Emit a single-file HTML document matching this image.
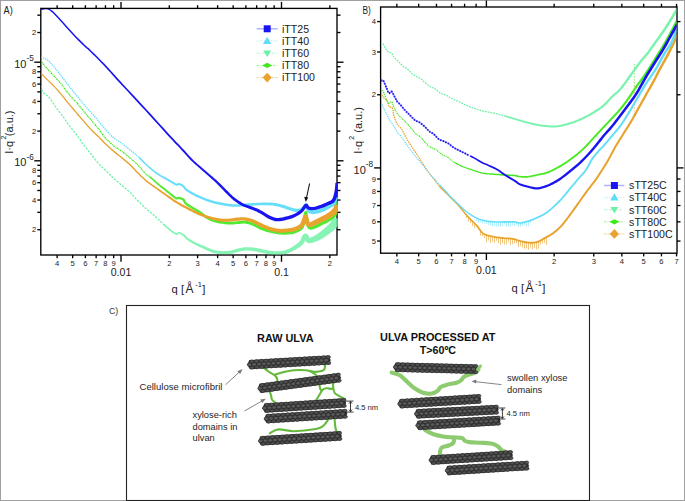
<!DOCTYPE html><html><head><meta charset="utf-8"><style>html,body{margin:0;padding:0;background:#fff;}svg{display:block;font-family:"Liberation Sans",sans-serif;}</style></head><body>
<svg width="685" height="501" viewBox="0 0 685 501">
<rect x="0" y="0" width="685" height="501" fill="#fff"/>
<defs><g id="rod"><path d="M0.3,0 L2.6,-4.6 L83.7,-4.6 L85.7,0 L83.7,4.6 L2.6,4.6 Z" fill="#2f2f2f"/><ellipse cx="5.05" cy="-3.0" rx="2.25" ry="1.60" fill="#505050" stroke="#2b2b2b" stroke-width="0.55"/><ellipse cx="9.95" cy="-3.0" rx="2.25" ry="1.60" fill="#505050" stroke="#2b2b2b" stroke-width="0.55"/><ellipse cx="14.85" cy="-3.0" rx="2.25" ry="1.60" fill="#505050" stroke="#2b2b2b" stroke-width="0.55"/><ellipse cx="19.75" cy="-3.0" rx="2.25" ry="1.60" fill="#505050" stroke="#2b2b2b" stroke-width="0.55"/><ellipse cx="24.65" cy="-3.0" rx="2.25" ry="1.60" fill="#505050" stroke="#2b2b2b" stroke-width="0.55"/><ellipse cx="29.55" cy="-3.0" rx="2.25" ry="1.60" fill="#505050" stroke="#2b2b2b" stroke-width="0.55"/><ellipse cx="34.45" cy="-3.0" rx="2.25" ry="1.60" fill="#505050" stroke="#2b2b2b" stroke-width="0.55"/><ellipse cx="39.35" cy="-3.0" rx="2.25" ry="1.60" fill="#505050" stroke="#2b2b2b" stroke-width="0.55"/><ellipse cx="44.25" cy="-3.0" rx="2.25" ry="1.60" fill="#505050" stroke="#2b2b2b" stroke-width="0.55"/><ellipse cx="49.15" cy="-3.0" rx="2.25" ry="1.60" fill="#505050" stroke="#2b2b2b" stroke-width="0.55"/><ellipse cx="54.05" cy="-3.0" rx="2.25" ry="1.60" fill="#505050" stroke="#2b2b2b" stroke-width="0.55"/><ellipse cx="58.95" cy="-3.0" rx="2.25" ry="1.60" fill="#505050" stroke="#2b2b2b" stroke-width="0.55"/><ellipse cx="63.85" cy="-3.0" rx="2.25" ry="1.60" fill="#505050" stroke="#2b2b2b" stroke-width="0.55"/><ellipse cx="68.75" cy="-3.0" rx="2.25" ry="1.60" fill="#505050" stroke="#2b2b2b" stroke-width="0.55"/><ellipse cx="73.65" cy="-3.0" rx="2.25" ry="1.60" fill="#505050" stroke="#2b2b2b" stroke-width="0.55"/><ellipse cx="78.55" cy="-3.0" rx="2.25" ry="1.60" fill="#505050" stroke="#2b2b2b" stroke-width="0.55"/><ellipse cx="83.45" cy="-3.0" rx="2.25" ry="1.60" fill="#505050" stroke="#2b2b2b" stroke-width="0.55"/><ellipse cx="5.05" cy="3.0" rx="2.25" ry="1.60" fill="#4e4e4e" stroke="#2b2b2b" stroke-width="0.55"/><ellipse cx="9.95" cy="3.0" rx="2.25" ry="1.60" fill="#4e4e4e" stroke="#2b2b2b" stroke-width="0.55"/><ellipse cx="14.85" cy="3.0" rx="2.25" ry="1.60" fill="#4e4e4e" stroke="#2b2b2b" stroke-width="0.55"/><ellipse cx="19.75" cy="3.0" rx="2.25" ry="1.60" fill="#4e4e4e" stroke="#2b2b2b" stroke-width="0.55"/><ellipse cx="24.65" cy="3.0" rx="2.25" ry="1.60" fill="#4e4e4e" stroke="#2b2b2b" stroke-width="0.55"/><ellipse cx="29.55" cy="3.0" rx="2.25" ry="1.60" fill="#4e4e4e" stroke="#2b2b2b" stroke-width="0.55"/><ellipse cx="34.45" cy="3.0" rx="2.25" ry="1.60" fill="#4e4e4e" stroke="#2b2b2b" stroke-width="0.55"/><ellipse cx="39.35" cy="3.0" rx="2.25" ry="1.60" fill="#4e4e4e" stroke="#2b2b2b" stroke-width="0.55"/><ellipse cx="44.25" cy="3.0" rx="2.25" ry="1.60" fill="#4e4e4e" stroke="#2b2b2b" stroke-width="0.55"/><ellipse cx="49.15" cy="3.0" rx="2.25" ry="1.60" fill="#4e4e4e" stroke="#2b2b2b" stroke-width="0.55"/><ellipse cx="54.05" cy="3.0" rx="2.25" ry="1.60" fill="#4e4e4e" stroke="#2b2b2b" stroke-width="0.55"/><ellipse cx="58.95" cy="3.0" rx="2.25" ry="1.60" fill="#4e4e4e" stroke="#2b2b2b" stroke-width="0.55"/><ellipse cx="63.85" cy="3.0" rx="2.25" ry="1.60" fill="#4e4e4e" stroke="#2b2b2b" stroke-width="0.55"/><ellipse cx="68.75" cy="3.0" rx="2.25" ry="1.60" fill="#4e4e4e" stroke="#2b2b2b" stroke-width="0.55"/><ellipse cx="73.65" cy="3.0" rx="2.25" ry="1.60" fill="#4e4e4e" stroke="#2b2b2b" stroke-width="0.55"/><ellipse cx="78.55" cy="3.0" rx="2.25" ry="1.60" fill="#4e4e4e" stroke="#2b2b2b" stroke-width="0.55"/><ellipse cx="83.45" cy="3.0" rx="2.25" ry="1.60" fill="#4e4e4e" stroke="#2b2b2b" stroke-width="0.55"/><ellipse cx="2.60" cy="0.0" rx="2.30" ry="1.75" fill="#5a5a5a" stroke="#2b2b2b" stroke-width="0.55"/><ellipse cx="7.50" cy="0.0" rx="2.30" ry="1.75" fill="#5a5a5a" stroke="#2b2b2b" stroke-width="0.55"/><ellipse cx="12.40" cy="0.0" rx="2.30" ry="1.75" fill="#5a5a5a" stroke="#2b2b2b" stroke-width="0.55"/><ellipse cx="17.30" cy="0.0" rx="2.30" ry="1.75" fill="#5a5a5a" stroke="#2b2b2b" stroke-width="0.55"/><ellipse cx="22.20" cy="0.0" rx="2.30" ry="1.75" fill="#5a5a5a" stroke="#2b2b2b" stroke-width="0.55"/><ellipse cx="27.10" cy="0.0" rx="2.30" ry="1.75" fill="#5a5a5a" stroke="#2b2b2b" stroke-width="0.55"/><ellipse cx="32.00" cy="0.0" rx="2.30" ry="1.75" fill="#5a5a5a" stroke="#2b2b2b" stroke-width="0.55"/><ellipse cx="36.90" cy="0.0" rx="2.30" ry="1.75" fill="#5a5a5a" stroke="#2b2b2b" stroke-width="0.55"/><ellipse cx="41.80" cy="0.0" rx="2.30" ry="1.75" fill="#5a5a5a" stroke="#2b2b2b" stroke-width="0.55"/><ellipse cx="46.70" cy="0.0" rx="2.30" ry="1.75" fill="#5a5a5a" stroke="#2b2b2b" stroke-width="0.55"/><ellipse cx="51.60" cy="0.0" rx="2.30" ry="1.75" fill="#5a5a5a" stroke="#2b2b2b" stroke-width="0.55"/><ellipse cx="56.50" cy="0.0" rx="2.30" ry="1.75" fill="#5a5a5a" stroke="#2b2b2b" stroke-width="0.55"/><ellipse cx="61.40" cy="0.0" rx="2.30" ry="1.75" fill="#5a5a5a" stroke="#2b2b2b" stroke-width="0.55"/><ellipse cx="66.30" cy="0.0" rx="2.30" ry="1.75" fill="#5a5a5a" stroke="#2b2b2b" stroke-width="0.55"/><ellipse cx="71.20" cy="0.0" rx="2.30" ry="1.75" fill="#5a5a5a" stroke="#2b2b2b" stroke-width="0.55"/><ellipse cx="76.10" cy="0.0" rx="2.30" ry="1.75" fill="#5a5a5a" stroke="#2b2b2b" stroke-width="0.55"/><ellipse cx="81.00" cy="0.0" rx="2.30" ry="1.75" fill="#5a5a5a" stroke="#2b2b2b" stroke-width="0.55"/></g></defs>
<g fill="#a0a0a0"><rect x="0" y="0" width="685" height="1"/><rect x="0" y="500" width="685" height="1"/><rect x="0" y="0" width="1" height="501"/><rect x="684" y="0" width="1" height="501"/></g>
<g stroke="#000" stroke-width="1.35" fill="none"><rect x="40.80" y="8.40" width="296.20" height="246.60"/><line x1="57.13" y1="255.00" x2="57.13" y2="258.20"/><line x1="57.13" y1="8.40" x2="57.13" y2="5.20"/><line x1="72.68" y1="255.00" x2="72.68" y2="258.20"/><line x1="72.68" y1="8.40" x2="72.68" y2="5.20"/><line x1="85.39" y1="255.00" x2="85.39" y2="258.20"/><line x1="85.39" y1="8.40" x2="85.39" y2="5.20"/><line x1="96.14" y1="255.00" x2="96.14" y2="258.20"/><line x1="96.14" y1="8.40" x2="96.14" y2="5.20"/><line x1="105.45" y1="255.00" x2="105.45" y2="258.20"/><line x1="105.45" y1="8.40" x2="105.45" y2="5.20"/><line x1="113.66" y1="255.00" x2="113.66" y2="258.20"/><line x1="113.66" y1="8.40" x2="113.66" y2="5.20"/><line x1="169.32" y1="255.00" x2="169.32" y2="258.20"/><line x1="169.32" y1="8.40" x2="169.32" y2="5.20"/><line x1="197.58" y1="255.00" x2="197.58" y2="258.20"/><line x1="197.58" y1="8.40" x2="197.58" y2="5.20"/><line x1="217.63" y1="255.00" x2="217.63" y2="258.20"/><line x1="217.63" y1="8.40" x2="217.63" y2="5.20"/><line x1="233.18" y1="255.00" x2="233.18" y2="258.20"/><line x1="233.18" y1="8.40" x2="233.18" y2="5.20"/><line x1="245.89" y1="255.00" x2="245.89" y2="258.20"/><line x1="245.89" y1="8.40" x2="245.89" y2="5.20"/><line x1="256.64" y1="255.00" x2="256.64" y2="258.20"/><line x1="256.64" y1="8.40" x2="256.64" y2="5.20"/><line x1="265.95" y1="255.00" x2="265.95" y2="258.20"/><line x1="265.95" y1="8.40" x2="265.95" y2="5.20"/><line x1="274.16" y1="255.00" x2="274.16" y2="258.20"/><line x1="274.16" y1="8.40" x2="274.16" y2="5.20"/><line x1="329.82" y1="255.00" x2="329.82" y2="258.20"/><line x1="329.82" y1="8.40" x2="329.82" y2="5.20"/><line x1="121.00" y1="255.00" x2="121.00" y2="261.80"/><line x1="121.00" y1="8.40" x2="121.00" y2="1.90"/><line x1="281.50" y1="255.00" x2="281.50" y2="261.80"/><line x1="281.50" y1="8.40" x2="281.50" y2="1.90"/><line x1="40.80" y1="229.72" x2="37.30" y2="229.72"/><line x1="337.00" y1="229.72" x2="340.50" y2="229.72"/><line x1="40.80" y1="212.36" x2="37.30" y2="212.36"/><line x1="337.00" y1="212.36" x2="340.50" y2="212.36"/><line x1="40.80" y1="200.04" x2="37.30" y2="200.04"/><line x1="337.00" y1="200.04" x2="340.50" y2="200.04"/><line x1="40.80" y1="190.48" x2="37.30" y2="190.48"/><line x1="337.00" y1="190.48" x2="340.50" y2="190.48"/><line x1="40.80" y1="182.67" x2="37.30" y2="182.67"/><line x1="337.00" y1="182.67" x2="340.50" y2="182.67"/><line x1="40.80" y1="176.07" x2="37.30" y2="176.07"/><line x1="337.00" y1="176.07" x2="340.50" y2="176.07"/><line x1="40.80" y1="170.36" x2="37.30" y2="170.36"/><line x1="337.00" y1="170.36" x2="340.50" y2="170.36"/><line x1="40.80" y1="165.31" x2="37.30" y2="165.31"/><line x1="337.00" y1="165.31" x2="340.50" y2="165.31"/><line x1="40.80" y1="131.12" x2="37.30" y2="131.12"/><line x1="337.00" y1="131.12" x2="340.50" y2="131.12"/><line x1="40.80" y1="113.76" x2="37.30" y2="113.76"/><line x1="337.00" y1="113.76" x2="340.50" y2="113.76"/><line x1="40.80" y1="101.44" x2="37.30" y2="101.44"/><line x1="337.00" y1="101.44" x2="340.50" y2="101.44"/><line x1="40.80" y1="91.88" x2="37.30" y2="91.88"/><line x1="337.00" y1="91.88" x2="340.50" y2="91.88"/><line x1="40.80" y1="84.07" x2="37.30" y2="84.07"/><line x1="337.00" y1="84.07" x2="340.50" y2="84.07"/><line x1="40.80" y1="77.47" x2="37.30" y2="77.47"/><line x1="337.00" y1="77.47" x2="340.50" y2="77.47"/><line x1="40.80" y1="71.76" x2="37.30" y2="71.76"/><line x1="337.00" y1="71.76" x2="340.50" y2="71.76"/><line x1="40.80" y1="66.71" x2="37.30" y2="66.71"/><line x1="337.00" y1="66.71" x2="340.50" y2="66.71"/><line x1="40.80" y1="32.52" x2="37.30" y2="32.52"/><line x1="337.00" y1="32.52" x2="340.50" y2="32.52"/><line x1="40.80" y1="15.16" x2="37.30" y2="15.16"/><line x1="337.00" y1="15.16" x2="340.50" y2="15.16"/><line x1="40.80" y1="62.20" x2="34.30" y2="62.20"/><line x1="337.00" y1="62.20" x2="343.50" y2="62.20"/><line x1="40.80" y1="160.80" x2="34.30" y2="160.80"/><line x1="337.00" y1="160.80" x2="343.50" y2="160.80"/></g>
<text x="57.13" y="266.00" font-size="7.60" text-anchor="middle" fill="#222" font-weight="normal" font-family="&quot;Liberation Sans&quot;, sans-serif" >4</text>
<text x="72.68" y="266.00" font-size="7.60" text-anchor="middle" fill="#222" font-weight="normal" font-family="&quot;Liberation Sans&quot;, sans-serif" >5</text>
<text x="85.39" y="266.00" font-size="7.60" text-anchor="middle" fill="#222" font-weight="normal" font-family="&quot;Liberation Sans&quot;, sans-serif" >6</text>
<text x="96.14" y="266.00" font-size="7.60" text-anchor="middle" fill="#222" font-weight="normal" font-family="&quot;Liberation Sans&quot;, sans-serif" >7</text>
<text x="105.45" y="266.00" font-size="7.60" text-anchor="middle" fill="#222" font-weight="normal" font-family="&quot;Liberation Sans&quot;, sans-serif" >8</text>
<text x="113.66" y="266.00" font-size="7.60" text-anchor="middle" fill="#222" font-weight="normal" font-family="&quot;Liberation Sans&quot;, sans-serif" >9</text>
<text x="169.32" y="266.00" font-size="7.60" text-anchor="middle" fill="#222" font-weight="normal" font-family="&quot;Liberation Sans&quot;, sans-serif" >2</text>
<text x="197.58" y="266.00" font-size="7.60" text-anchor="middle" fill="#222" font-weight="normal" font-family="&quot;Liberation Sans&quot;, sans-serif" >3</text>
<text x="217.63" y="266.00" font-size="7.60" text-anchor="middle" fill="#222" font-weight="normal" font-family="&quot;Liberation Sans&quot;, sans-serif" >4</text>
<text x="233.18" y="266.00" font-size="7.60" text-anchor="middle" fill="#222" font-weight="normal" font-family="&quot;Liberation Sans&quot;, sans-serif" >5</text>
<text x="245.89" y="266.00" font-size="7.60" text-anchor="middle" fill="#222" font-weight="normal" font-family="&quot;Liberation Sans&quot;, sans-serif" >6</text>
<text x="256.64" y="266.00" font-size="7.60" text-anchor="middle" fill="#222" font-weight="normal" font-family="&quot;Liberation Sans&quot;, sans-serif" >7</text>
<text x="265.95" y="266.00" font-size="7.60" text-anchor="middle" fill="#222" font-weight="normal" font-family="&quot;Liberation Sans&quot;, sans-serif" >8</text>
<text x="274.16" y="266.00" font-size="7.60" text-anchor="middle" fill="#222" font-weight="normal" font-family="&quot;Liberation Sans&quot;, sans-serif" >9</text>
<text x="329.82" y="266.00" font-size="7.60" text-anchor="middle" fill="#222" font-weight="normal" font-family="&quot;Liberation Sans&quot;, sans-serif" >2</text>
<text x="121.00" y="276.00" font-size="10.60" text-anchor="middle" fill="#222" font-weight="normal" font-family="&quot;Liberation Sans&quot;, sans-serif" >0.01</text>
<text x="281.50" y="276.00" font-size="10.60" text-anchor="middle" fill="#222" font-weight="normal" font-family="&quot;Liberation Sans&quot;, sans-serif" >0.1</text>
<text x="36.30" y="35.12" font-size="7.60" text-anchor="end" fill="#222" font-weight="normal" font-family="&quot;Liberation Sans&quot;, sans-serif" >2</text>
<text x="36.30" y="74.36" font-size="7.60" text-anchor="end" fill="#222" font-weight="normal" font-family="&quot;Liberation Sans&quot;, sans-serif" >8</text>
<text x="36.30" y="86.67" font-size="7.60" text-anchor="end" fill="#222" font-weight="normal" font-family="&quot;Liberation Sans&quot;, sans-serif" >6</text>
<text x="36.30" y="104.04" font-size="7.60" text-anchor="end" fill="#222" font-weight="normal" font-family="&quot;Liberation Sans&quot;, sans-serif" >4</text>
<text x="36.30" y="133.72" font-size="7.60" text-anchor="end" fill="#222" font-weight="normal" font-family="&quot;Liberation Sans&quot;, sans-serif" >2</text>
<text x="36.30" y="172.96" font-size="7.60" text-anchor="end" fill="#222" font-weight="normal" font-family="&quot;Liberation Sans&quot;, sans-serif" >8</text>
<text x="36.30" y="185.27" font-size="7.60" text-anchor="end" fill="#222" font-weight="normal" font-family="&quot;Liberation Sans&quot;, sans-serif" >6</text>
<text x="36.30" y="202.64" font-size="7.60" text-anchor="end" fill="#222" font-weight="normal" font-family="&quot;Liberation Sans&quot;, sans-serif" >4</text>
<text x="36.30" y="232.32" font-size="7.60" text-anchor="end" fill="#222" font-weight="normal" font-family="&quot;Liberation Sans&quot;, sans-serif" >2</text>
<text x="14.2" y="67.80" font-size="11" font-family="&quot;Liberation Sans&quot;, sans-serif" fill="#222">10<tspan font-size="8.2" dy="-6.8">-5</tspan></text>
<text x="14.2" y="166.40" font-size="11" font-family="&quot;Liberation Sans&quot;, sans-serif" fill="#222">10<tspan font-size="8.2" dy="-6.8">-6</tspan></text>
<text transform="translate(13.4,153.8) rotate(-90)" font-size="11" font-family="&quot;Liberation Sans&quot;, sans-serif" fill="#222">I·q<tspan font-size="7" dy="-7.2" dx="1.4">2</tspan><tspan dy="7.2" dx="-0.5">(a.u.)</tspan></text>
<text x="171.6" y="293.2" font-size="11.2" font-family="&quot;Liberation Sans&quot;, sans-serif" fill="#222">q [<tspan dx="1.4" font-size="12">Å</tspan><tspan font-size="7.5" dy="-6.3" dx="1.8">-1</tspan><tspan dy="6.3" dx="0.4">]</tspan></text>
<text x="3.50" y="13.90" font-size="10.00" text-anchor="start" fill="#1a1a1a" font-weight="normal" font-family="&quot;Liberation Sans&quot;, sans-serif" textLength="9.2" lengthAdjust="spacingAndGlyphs">A)</text>
<defs><clipPath id="clipA"><rect x="41.4" y="9" width="296.4" height="245.4"/></clipPath><clipPath id="clipB"><rect x="381.2" y="7.6" width="295.2" height="245"/></clipPath></defs>
<g clip-path="url(#clipA)">
<path d="M40.80,86.00 L41.01,86.69 L41.27,87.66 L41.60,88.80 L42.01,90.02 L42.54,91.22 L43.20,92.30 L44.04,93.23 L45.04,94.07 L46.15,94.89 L47.32,95.76 L48.49,96.74 L49.60,97.90 L50.66,99.27 L51.70,100.81 L52.74,102.46 L53.79,104.16 L54.88,105.86 L56.00,107.50 L57.21,109.12 L58.49,110.76 L59.80,112.41 L61.09,114.01 L62.31,115.56 L63.40,117.00 L64.35,118.33 L65.20,119.59 L65.97,120.77 L66.70,121.90 L67.44,123.01 L68.20,124.10 L68.99,125.16 L69.77,126.18 L70.55,127.17 L71.33,128.14 L72.11,129.11 L72.90,130.10 L73.69,131.09 L74.49,132.06 L75.29,133.02 L76.10,134.01 L76.90,135.03 L77.70,136.10 L78.50,137.24 L79.30,138.46 L80.10,139.70 L80.90,140.94 L81.70,142.16 L82.50,143.30 L83.30,144.37 L84.10,145.38 L84.90,146.36 L85.70,147.32 L86.50,148.30 L87.30,149.30 L88.09,150.32 L88.86,151.34 L89.63,152.36 L90.42,153.41 L91.24,154.48 L92.10,155.60 L93.00,156.77 L93.91,157.97 L94.85,159.21 L95.84,160.46 L96.88,161.73 L98.00,163.00 L99.21,164.28 L100.51,165.57 L101.87,166.87 L103.26,168.18 L104.64,169.49 L106.00,170.80 L107.33,172.13 L108.67,173.47 L110.01,174.83 L111.34,176.16 L112.67,177.46 L114.00,178.70 L115.32,179.87 L116.64,180.98 L117.95,182.06 L119.26,183.12 L120.58,184.19 L121.90,185.30 L123.23,186.43 L124.56,187.55 L125.89,188.68 L127.23,189.84 L128.57,191.04 L129.90,192.30 L131.23,193.64 L132.57,195.05 L133.90,196.51 L135.23,197.97 L136.57,199.41 L137.90,200.80 L139.23,202.14 L140.57,203.46 L141.90,204.76 L143.23,206.03 L144.57,207.28 L145.90,208.50 L147.23,209.68 L148.57,210.81 L149.90,211.93 L151.23,213.03 L152.57,214.15 L153.90,215.30 L155.26,216.51 L156.64,217.76 L158.02,219.03 L159.37,220.27 L160.68,221.48 L161.90,222.60 L163.00,223.63 L164.00,224.59 L164.95,225.50" fill="none" stroke="#6cf2a6" stroke-width="1.30" stroke-dasharray="2.2,1.3" opacity="1.00"/>
<path d="M163.41,225.20 L164.36,226.12 L165.32,227.02 L166.33,227.93 L167.45,228.87 L168.74,229.90 L170.17,231.04 L171.66,232.17 L173.12,233.23 L174.47,234.11 L175.68,234.73 L176.80,234.96 L177.78,234.69 L178.40,234.20 L178.77,233.82 L178.91,233.69 L179.08,233.69 L179.60,233.86 L180.33,234.21 L181.13,234.68 L181.95,235.22 L182.72,235.77 L183.39,236.27 L183.86,236.69 L184.20,237.10 L184.55,237.58 L185.01,238.17 L185.63,238.83 L186.48,239.54 L187.56,240.31 L188.83,241.15 L190.22,242.04 L191.68,242.93 L193.15,243.79 L194.55,244.57 L195.94,245.28 L197.36,245.95 L198.77,246.58 L200.13,247.17 L201.40,247.72 L202.55,248.24 L203.55,248.73 L204.44,249.18 L205.28,249.59 L206.11,250.00 L206.99,250.41 L207.95,250.82 L208.93,251.24 L209.94,251.68 L211.00,252.12 L212.14,252.55 L213.37,252.94 L214.70,253.27 L216.16,253.53 L217.72,253.74 L219.34,253.91 L220.96,254.04 L222.52,254.13 L223.96,254.19 L225.27,254.22 L226.51,254.23 L227.71,254.20 L228.89,254.13 L230.07,254.01 L231.30,253.83 L232.56,253.56 L233.78,253.22 L234.96,252.84 L236.10,252.47 L237.23,252.13 L238.39,251.84 L239.63,251.57 L240.93,251.31 L242.24,251.07 L243.55,250.86 L244.83,250.71 L246.09,250.61 L247.33,250.59 L248.57,250.62 L249.82,250.70 L251.09,250.82 L252.37,250.96 L253.66,251.13 L254.93,251.33 L256.22,251.58 L257.52,251.86 L258.85,252.16 L260.19,252.46 L261.54,252.75 L262.86,253.03 L264.18,253.32 L265.52,253.62 L266.88,253.91 L268.26,254.18 L269.64,254.40 L271.00,254.59 L272.37,254.76 L273.75,254.90 L275.14,255.01 L276.55,255.06 L277.96,255.05 L279.34,254.99 L280.71,254.88 L282.10,254.72 L283.50,254.50 L284.92,254.19 L286.36,253.80 L287.81,253.31 L289.28,252.73 L290.75,252.08 L292.21,251.40 L293.64,250.68 L295.02,249.93 L296.38,249.14 L297.76,248.29 L299.13,247.38 L300.45,246.41 L301.70,245.38 L302.86,244.24 L303.89,242.91 L304.73,241.47 L305.41,240.09 L305.97,238.87 L306.39,237.97 L306.67,237.52 L306.71,237.51 L306.02,237.89 L304.36,237.68 L303.89,237.30 L304.02,237.52 L304.19,237.76 L304.30,237.99 L304.49,238.57 L304.79,239.48 L305.24,240.56 L306.01,241.77 L307.39,242.81 L308.94,243.19 L310.25,243.16 L311.44,242.96 L312.58,242.66 L313.68,242.31 L314.79,241.94 L315.98,241.50 L317.27,240.98 L318.61,240.39 L319.98,239.73 L321.35,239.03 L322.70,238.27 L324.06,237.44 L325.42,236.54 L326.77,235.61 L328.08,234.66 L329.33,233.74 L330.47,232.87 L331.53,232.08 L332.57,231.29 L333.60,230.48 L334.64,229.60 L335.67,228.61 L336.70,227.48 L337.68,226.16 L338.58,224.76 L339.37,223.39 L340.05,222.15 L340.59,221.17 L340.96,220.49 L333.44,216.51 L333.05,217.28 L332.55,218.33 L332.00,219.48 L331.41,220.65 L330.83,221.70 L330.30,222.52 L329.77,223.22 L329.14,223.92 L328.43,224.65 L327.62,225.41 L326.71,226.24 L325.73,227.13 L324.68,228.08 L323.59,229.06 L322.45,230.04 L321.31,231.01 L320.19,231.91 L319.10,232.73 L318.01,233.50 L316.88,234.24 L315.75,234.95 L314.65,235.60 L313.60,236.17 L312.61,236.66 L311.66,237.11 L310.78,237.52 L310.03,237.82 L309.49,238.00 L309.22,238.08 L309.41,238.19 L309.67,238.42 L309.58,238.27 L309.32,237.71 L309.03,236.93 L308.67,236.04 L308.21,235.24 L307.87,234.80 L307.62,234.44 L306.81,233.70 L304.78,233.41 L303.59,234.10 L302.93,234.88 L302.34,235.86 L301.83,237.00 L301.31,238.20 L300.76,239.40 L300.18,240.47 L299.54,241.36 L298.74,242.20 L297.76,243.08 L296.65,243.97 L295.45,244.84 L294.21,245.68 L292.98,246.47 L291.73,247.23 L290.45,247.96 L289.14,248.64 L287.81,249.24 L286.51,249.76 L285.24,250.20 L284.01,250.55 L282.80,250.82 L281.58,251.03 L280.35,251.18 L279.10,251.28 L277.84,251.35 L276.59,251.37 L275.34,251.33 L274.06,251.25 L272.77,251.12 L271.47,250.97 L270.16,250.80 L268.87,250.61 L267.58,250.37 L266.28,250.10 L264.95,249.82 L263.61,249.53 L262.26,249.25 L260.94,248.98 L259.61,248.70 L258.26,248.40 L256.90,248.12 L255.52,247.87 L254.14,247.67 L252.79,247.50 L251.44,247.36 L250.08,247.24 L248.70,247.17 L247.32,247.14 L245.91,247.19 L244.49,247.30 L243.06,247.49 L241.65,247.72 L240.27,247.99 L238.93,248.27 L237.61,248.56 L236.32,248.90 L235.08,249.28 L233.92,249.67 L232.81,250.03 L231.75,250.34 L230.70,250.57 L229.64,250.74 L228.59,250.87 L227.54,250.95 L226.45,251.00 L225.29,251.02 L224.04,251.01 L222.65,250.98 L221.15,250.92 L219.59,250.83 L218.05,250.70 L216.60,250.54 L215.30,250.33 L214.15,250.07 L213.08,249.75 L212.05,249.39 L211.05,248.99 L210.05,248.58 L209.05,248.18 L208.14,247.80 L207.31,247.43 L206.51,247.06 L205.66,246.65 L204.72,246.22 L203.65,245.76 L202.44,245.26 L201.13,244.74 L199.76,244.21 L198.37,243.65 L196.99,243.06 L195.65,242.43 L194.27,241.73 L192.82,240.94 L191.37,240.12 L189.98,239.31 L188.74,238.54 L187.72,237.86 L187.01,237.31 L186.53,236.82 L186.15,236.35 L185.76,235.84 L185.26,235.28 L184.61,234.73 L183.84,234.19 L182.99,233.63 L182.08,233.08 L181.16,232.59 L180.25,232.19 L179.32,231.91 L178.35,231.99 L177.62,232.45 L177.20,232.88 L176.95,233.11 L176.79,233.18 L176.32,233.07 L175.37,232.58 L174.12,231.77 L172.70,230.76 L171.24,229.65 L169.82,228.54 L168.55,227.53 L167.46,226.63 L166.48,225.75 L165.54,224.88 L164.60,223.97 Z" fill="#6cf2a6" opacity="0.82"/>
<path d="M40.80,60.40 L41.19,60.97 L41.69,61.74 L42.30,62.66 L43.02,63.70 L43.86,64.82 L44.80,66.00 L45.90,67.27 L47.17,68.67 L48.55,70.15 L49.99,71.68 L51.42,73.21 L52.80,74.70 L54.13,76.14 L55.47,77.57 L56.81,78.99 L58.14,80.44 L59.47,81.94 L60.80,83.50 L62.12,85.16 L63.44,86.91 L64.75,88.70 L66.06,90.49 L67.38,92.24 L68.70,93.90 L70.03,95.45 L71.36,96.92 L72.69,98.35 L74.03,99.77 L75.37,101.21 L76.70,102.70 L78.03,104.25 L79.37,105.84 L80.70,107.45 L82.03,109.07 L83.37,110.69 L84.70,112.30 L86.05,113.92 L87.43,115.57 L88.81,117.22 L90.16,118.85 L91.47,120.42 L92.70,121.90 L93.84,123.26 L94.90,124.52 L95.91,125.72 L96.91,126.92 L97.93,128.16 L99.00,129.50 L100.11,130.96 L101.24,132.52 L102.39,134.12 L103.57,135.72 L104.77,137.26 L106.00,138.70 L107.28,140.03 L108.59,141.31 L109.94,142.53 L111.30,143.69 L112.66,144.82 L114.00,145.90 L115.33,146.92 L116.67,147.86 L118.00,148.75 L119.33,149.63 L120.67,150.54 L122.00,151.50 L123.33,152.51 L124.67,153.55 L126.01,154.61 L127.34,155.69 L128.67,156.78 L130.00,157.90 L131.32,159.02 L132.64,160.14 L133.95,161.29 L135.26,162.47 L136.58,163.70 L137.90,165.00 L139.26,166.45 L140.67,168.05 L142.07,169.71 L143.44,171.31 L144.73,172.78 L145.90,174.00 L146.91,174.92 L147.78,175.59 L148.58,176.12 L149.34,176.61" fill="none" stroke="#3fe81a" stroke-width="1.30" stroke-dasharray="1.6,0.8,0.8,0.8" opacity="1.00"/>
<path d="M148.93,177.23 L149.69,177.74 L150.52,178.39 L151.43,179.20 L152.40,180.09 L153.40,181.03 L154.41,181.99 L155.44,182.94 L156.45,183.84 L157.46,184.70 L158.46,185.52 L159.45,186.33 L160.45,187.13 L161.44,187.92 L162.42,188.72 L163.40,189.52 L164.37,190.32 L165.33,191.11 L166.32,191.92 L167.33,192.74 L168.38,193.59 L169.52,194.52 L170.78,195.57 L172.07,196.64 L173.32,197.65 L174.47,198.52 L175.48,199.17 L176.38,199.53 L177.31,199.53 L177.98,199.20 L178.21,199.00 L178.15,199.00 L178.28,199.02 L178.86,199.14 L179.64,199.32 L180.47,199.54 L181.27,199.80 L181.97,200.11 L182.48,200.42 L182.80,200.74 L183.07,201.20 L183.36,201.84 L183.72,202.63 L184.24,203.50 L184.98,204.35 L185.88,205.09 L186.84,205.78 L187.88,206.46 L188.98,207.13 L190.11,207.81 L191.28,208.53 L192.51,209.28 L193.82,210.05 L195.17,210.84 L196.54,211.64 L197.89,212.47 L199.21,213.32 L200.49,214.25 L201.79,215.27 L203.12,216.34 L204.47,217.41 L205.86,218.42 L207.27,219.30 L208.67,220.05 L210.06,220.69 L211.45,221.24 L212.83,221.73 L214.19,222.16 L215.56,222.56 L216.95,222.92 L218.35,223.22 L219.74,223.47 L221.11,223.68 L222.45,223.86 L223.74,224.03 L224.99,224.19 L226.21,224.32 L227.41,224.43 L228.61,224.51 L229.80,224.56 L231.02,224.57 L232.24,224.54 L233.43,224.45 L234.60,224.33 L235.75,224.20 L236.90,224.09 L238.11,224.00 L239.40,223.91 L240.72,223.79 L242.04,223.68 L243.34,223.62 L244.60,223.62 L245.82,223.73 L247.03,223.94 L248.26,224.24 L249.51,224.62 L250.77,225.06 L252.05,225.55 L253.33,226.06 L254.59,226.63 L255.87,227.29 L257.18,228.01 L258.53,228.75 L259.92,229.46 L261.33,230.09 L262.73,230.62 L264.11,231.09 L265.48,231.51 L266.84,231.89 L268.19,232.24 L269.53,232.58 L270.88,232.91 L272.24,233.23 L273.60,233.53 L274.96,233.80 L276.33,234.04 L277.70,234.23 L279.06,234.39 L280.40,234.53 L281.75,234.62 L283.11,234.68 L284.48,234.70 L285.86,234.67 L287.25,234.60 L288.68,234.51 L290.13,234.37 L291.59,234.17 L293.04,233.89 L294.44,233.53 L295.81,233.10 L297.20,232.62 L298.59,232.05 L299.95,231.36 L301.23,230.52 L302.38,229.49 L303.32,228.27 L304.03,226.94 L304.58,225.56 L305.01,224.16 L305.39,222.78 L305.77,221.37 L306.13,219.69 L306.42,217.74 L306.66,215.79 L306.87,214.11 L307.05,213.06 L305.66,213.82 L304.34,213.05 L304.50,214.12 L304.69,215.81 L304.89,217.77 L305.12,219.70 L305.41,221.32 L305.72,222.67 L306.04,223.99 L306.41,225.28 L306.84,226.52 L307.39,227.66 L308.15,228.65 L309.14,229.37 L310.25,229.72 L311.32,229.76 L312.30,229.60 L313.24,229.36 L314.23,229.05 L315.38,228.62 L316.62,228.04 L317.90,227.38 L319.19,226.68 L320.45,226.00 L321.64,225.38 L322.79,224.84 L323.97,224.32 L325.19,223.78 L326.45,223.19 L327.74,222.50 L329.01,221.71 L330.28,220.88 L331.65,219.99 L333.07,218.99 L334.47,217.82 L335.76,216.42 L336.83,214.73 L337.56,212.66 L338.02,210.32 L338.29,207.92 L338.46,205.65 L338.57,203.76 L338.69,202.45 L335.31,202.15 L335.18,203.51 L335.07,205.42 L334.91,207.60 L334.66,209.81 L334.28,211.79 L333.77,213.27 L333.07,214.36 L332.14,215.38 L331.02,216.32 L329.76,217.21 L328.45,218.06 L327.19,218.89 L326.06,219.61 L324.95,220.21 L323.81,220.75 L322.63,221.28 L321.41,221.82 L320.16,222.42 L318.89,223.08 L317.61,223.78 L316.35,224.47 L315.16,225.09 L314.09,225.60 L313.17,225.95 L312.32,226.21 L311.60,226.41 L311.07,226.50 L310.77,226.50 L310.62,226.47 L310.45,226.35 L310.18,225.98 L309.84,225.28 L309.51,224.32 L309.19,223.17 L308.88,221.92 L308.59,220.68 L308.33,219.23 L308.11,217.40 L307.91,215.47 L307.72,213.71 L307.49,212.30 L305.74,210.58 L303.91,212.26 L303.67,213.65 L303.45,215.39 L303.22,217.30 L302.95,219.13 L302.63,220.63 L302.28,221.94 L301.92,223.26 L301.54,224.49 L301.10,225.59 L300.61,226.53 L300.02,227.31 L299.28,227.98 L298.35,228.59 L297.26,229.14 L296.06,229.63 L294.80,230.08 L293.56,230.47 L292.34,230.80 L291.07,231.05 L289.76,231.23 L288.42,231.37 L287.07,231.46 L285.74,231.53 L284.45,231.57 L283.19,231.56 L281.92,231.51 L280.66,231.43 L279.38,231.31 L278.10,231.17 L276.81,230.99 L275.52,230.77 L274.22,230.52 L272.91,230.24 L271.59,229.94 L270.27,229.62 L268.94,229.29 L267.63,228.95 L266.32,228.59 L265.02,228.21 L263.74,227.78 L262.47,227.31 L261.21,226.75 L259.93,226.10 L258.61,225.39 L257.25,224.66 L255.87,223.96 L254.47,223.34 L253.11,222.81 L251.76,222.31 L250.39,221.84 L249.01,221.44 L247.61,221.11 L246.18,220.87 L244.72,220.76 L243.27,220.76 L241.84,220.84 L240.47,220.97 L239.16,221.10 L237.89,221.20 L236.65,221.30 L235.45,221.43 L234.29,221.57 L233.18,221.69 L232.08,221.78 L230.98,221.83 L229.86,221.82 L228.74,221.79 L227.61,221.72 L226.47,221.63 L225.29,221.51 L224.06,221.37 L222.79,221.21 L221.49,221.05 L220.17,220.85 L218.85,220.63 L217.54,220.36 L216.24,220.04 L214.94,219.67 L213.64,219.27 L212.35,218.82 L211.07,218.32 L209.79,217.75 L208.53,217.10 L207.28,216.32 L205.99,215.39 L204.68,214.37 L203.34,213.31 L201.98,212.26 L200.59,211.28 L199.20,210.38 L197.79,209.54 L196.39,208.73 L195.03,207.95 L193.74,207.20 L192.52,206.47 L191.35,205.76 L190.21,205.09 L189.14,204.44 L188.16,203.82 L187.31,203.22 L186.62,202.65 L186.13,202.11 L185.79,201.53 L185.48,200.86 L185.13,200.11 L184.64,199.31 L183.92,198.58 L183.03,198.04 L182.08,197.63 L181.11,197.32 L180.17,197.09 L179.31,196.91 L178.52,196.78 L177.68,196.81 L176.98,197.14 L176.70,197.38 L176.79,197.37 L176.90,197.38 L176.52,197.23 L175.70,196.73 L174.62,195.95 L173.38,195.00 L172.08,193.96 L170.80,192.94 L169.62,192.01 L168.56,191.19 L167.54,190.39 L166.54,189.61 L165.56,188.84 L164.58,188.06 L163.58,187.28 L162.56,186.49 L161.55,185.72 L160.55,184.94 L159.54,184.17 L158.54,183.37 L157.55,182.56 L156.54,181.70 L155.52,180.78 L154.49,179.85 L153.47,178.92 L152.46,178.03 L151.48,177.21 L150.57,176.52 L149.76,175.98 Z" fill="#3fe81a" opacity="0.90"/>
<path d="M40.38,73.63 L40.94,74.18 L41.68,74.91 L42.58,75.78 L43.61,76.79 L44.74,77.91 L45.97,79.13 L47.36,80.50 L48.94,82.04 L50.62,83.68 L52.33,85.38 L54.00,87.08 L55.54,88.72 L56.96,90.31 L58.31,91.90 L59.62,93.50 L60.91,95.10 L62.20,96.70 L63.51,98.30 L64.81,99.88 L66.09,101.44 L67.36,103.00 L68.65,104.59 L69.99,106.22 L71.41,107.91 L72.92,109.71 L74.52,111.59 L76.17,113.52 L77.82,115.44 L79.45,117.33 L81.00,119.13 L82.49,120.85 L83.93,122.54 L85.35,124.19 L86.75,125.79 L88.13,127.35 L89.51,128.86 L90.88,130.29 L92.23,131.64 L93.56,132.94 L94.88,134.21 L96.20,135.48 L97.52,136.78 L98.85,138.12 L100.18,139.47 L101.51,140.82 L102.85,142.17 L104.19,143.50 L105.52,144.80 L106.86,146.06 L108.20,147.30 L109.53,148.52 L110.87,149.71 L112.21,150.88 L113.55,152.04 L114.89,153.15 L116.23,154.23 L117.56,155.28 L118.90,156.32 L120.22,157.37 L121.55,158.45 L122.88,159.56 L124.21,160.66 L125.54,161.78 L126.87,162.93 L128.19,164.10 L129.50,165.32 L130.81,166.61 L132.11,167.96 L133.42,169.36 L134.73,170.77 L136.05,172.17 L137.38,173.52 L138.75,174.86 L140.16,176.22 L141.57,177.56 L142.94,178.84 L144.24,180.02 L145.41,181.06 L146.43,181.93 L147.32,182.64 L148.13,183.26 L148.90,183.82 L149.69,184.39 L150.56,185.02 L151.50,185.71 L152.49,186.42 L153.49,187.13 L154.51,187.84 L155.52,188.56 L156.52,189.28 L157.51,189.99 L158.50,190.72 L159.50,191.45 L160.49,192.18 L161.49,192.91 L162.48,193.63 L163.47,194.34 L164.44,195.03 L165.41,195.73 L166.39,196.43 L167.40,197.14 L168.45,197.89 L169.54,198.66 L170.65,199.47 L171.80,200.30 L172.99,201.13 L174.20,201.97 L175.45,202.78 L176.74,203.58 L178.07,204.36 L179.42,205.14 L180.78,205.90 L182.13,206.65 L183.47,207.39 L184.79,208.11 L186.10,208.83 L187.41,209.53 L188.72,210.22 L190.04,210.91 L191.36,211.58 L192.68,212.26 L194.01,212.94 L195.35,213.61 L196.69,214.27 L198.05,214.90 L199.40,215.50 L200.76,216.05 L202.11,216.57 L203.46,217.07 L204.81,217.53 L206.16,217.98 L207.50,218.41 L208.84,218.82 L210.19,219.22 L211.54,219.61 L212.89,219.97 L214.25,220.30 L215.62,220.60 L216.98,220.88 L218.37,221.13 L219.75,221.35 L221.13,221.54 L222.49,221.69 L223.82,221.80 L225.12,221.85 L226.38,221.84 L227.60,221.80 L228.79,221.73 L229.96,221.64 L231.15,221.55 L232.36,221.43 L233.54,221.27 L234.69,221.10 L235.82,220.94 L236.95,220.80 L238.12,220.71 L239.37,220.64 L240.67,220.58 L241.98,220.54 L243.27,220.55 L244.53,220.62 L245.75,220.77 L246.97,221.00 L248.19,221.31 L249.43,221.69 L250.69,222.12 L251.96,222.60 L253.23,223.11 L254.48,223.68 L255.75,224.32 L257.06,225.02 L258.39,225.75 L259.76,226.48 L261.14,227.15 L262.50,227.76 L263.85,228.36 L265.21,228.93 L266.57,229.48 L267.94,230.00 L269.31,230.48 L270.67,230.93 L272.04,231.35 L273.42,231.75 L274.82,232.11 L276.24,232.40 L277.68,232.62 L279.12,232.75 L280.53,232.79 L281.92,232.76 L283.29,232.69 L284.63,232.59 L285.97,232.49 L287.33,232.38 L288.74,232.27 L290.20,232.12 L291.67,231.92 L293.15,231.64 L294.59,231.27 L295.99,230.82 L297.40,230.30 L298.81,229.70 L300.18,229.00 L301.48,228.19 L302.69,227.22 L303.73,226.02 L304.53,224.71 L305.14,223.40 L305.62,222.19 L306.00,221.16 L306.35,220.32 L306.69,219.48 L306.95,218.64 L307.12,217.99 L307.21,217.63 L307.07,217.88 L305.32,218.73 L303.82,218.00 L303.71,217.86 L303.83,218.20 L304.00,218.79 L304.22,219.51 L304.44,220.17 L304.62,220.83 L304.80,221.74 L305.03,222.86 L305.37,224.08 L305.99,225.38 L307.23,226.59 L308.85,227.09 L310.23,227.04 L311.43,226.75 L312.54,226.37 L313.59,225.95 L314.66,225.54 L315.84,225.04 L317.10,224.44 L318.38,223.80 L319.64,223.14 L320.88,222.51 L322.05,221.94 L323.17,221.45 L324.34,220.99 L325.57,220.51 L326.86,219.97 L328.21,219.32 L329.57,218.56 L330.95,217.69 L332.37,216.73 L333.81,215.69 L335.20,214.59 L336.48,213.46 L337.63,212.23 L338.56,210.83 L339.20,209.39 L339.60,208.08 L339.84,206.98 L339.99,206.21 L340.11,205.73 L334.29,204.27 L334.12,204.96 L333.97,205.79 L333.80,206.60 L333.59,207.35 L333.33,208.00 L332.97,208.57 L332.34,209.29 L331.39,210.19 L330.25,211.16 L329.02,212.13 L327.78,213.04 L326.63,213.84 L325.59,214.48 L324.54,215.03 L323.43,215.56 L322.26,216.08 L321.03,216.63 L319.75,217.26 L318.48,217.95 L317.21,218.66 L315.99,219.37 L314.82,220.02 L313.74,220.59 L312.74,221.06 L311.74,221.51 L310.79,221.93 L310.00,222.25 L309.44,222.42 L309.27,222.47 L309.57,222.61 L309.79,222.81 L309.66,222.52 L309.45,221.78 L309.25,220.82 L309.03,219.78 L308.76,218.83 L308.51,218.11 L308.30,217.46 L308.09,216.78 L307.83,216.10 L307.35,215.26 L305.48,214.27 L303.40,215.36 L302.99,216.24 L302.82,216.86 L302.68,217.44 L302.51,218.01 L302.25,218.68 L301.89,219.60 L301.52,220.66 L301.12,221.72 L300.69,222.71 L300.22,223.54 L299.71,224.18 L299.02,224.77 L298.10,225.36 L297.03,225.93 L295.85,226.45 L294.62,226.92 L293.41,227.33 L292.23,227.66 L290.99,227.91 L289.69,228.10 L288.35,228.26 L286.99,228.39 L285.63,228.51 L284.30,228.64 L283.01,228.75 L281.75,228.84 L280.53,228.88 L279.32,228.86 L278.12,228.78 L276.90,228.61 L275.66,228.37 L274.39,228.07 L273.10,227.72 L271.80,227.33 L270.49,226.92 L269.19,226.49 L267.90,226.02 L266.59,225.52 L265.28,224.98 L263.97,224.42 L262.66,223.85 L261.37,223.25 L260.07,222.58 L258.73,221.88 L257.37,221.17 L255.97,220.49 L254.57,219.89 L253.20,219.36 L251.84,218.86 L250.47,218.41 L249.08,218.02 L247.68,217.69 L246.25,217.43 L244.79,217.28 L243.34,217.23 L241.91,217.24 L240.52,217.31 L239.18,217.40 L237.88,217.49 L236.61,217.61 L235.38,217.77 L234.20,217.96 L233.07,218.15 L231.97,218.32 L230.85,218.45 L229.70,218.56 L228.56,218.66 L227.43,218.75 L226.30,218.81 L225.15,218.83 L223.98,218.80 L222.75,218.73 L221.47,218.61 L220.16,218.45 L218.83,218.26 L217.50,218.04 L216.18,217.80 L214.88,217.53 L213.57,217.23 L212.26,216.90 L210.94,216.55 L209.62,216.18 L208.30,215.79 L206.98,215.39 L205.65,214.98 L204.34,214.55 L203.02,214.09 L201.71,213.61 L200.40,213.10 L199.09,212.55 L197.77,211.97 L196.44,211.35 L195.11,210.71 L193.77,210.07 L192.44,209.42 L191.12,208.77 L189.80,208.12 L188.49,207.46 L187.17,206.79 L185.86,206.11 L184.53,205.41 L183.19,204.70 L181.83,203.98 L180.47,203.25 L179.12,202.51 L177.81,201.77 L176.55,201.02 L175.32,200.25 L174.12,199.47 L172.95,198.67 L171.79,197.86 L170.66,197.08 L169.55,196.31 L168.48,195.59 L167.46,194.89 L166.47,194.21 L165.49,193.54 L164.51,192.86 L163.52,192.17 L162.51,191.47 L161.51,190.76 L160.50,190.05 L159.50,189.34 L158.49,188.63 L157.48,187.92 L156.46,187.22 L155.42,186.52 L154.40,185.82 L153.38,185.13 L152.39,184.45 L151.44,183.78 L150.57,183.16 L149.78,182.60 L149.02,182.06 L148.24,181.47 L147.38,180.78 L146.39,179.94 L145.23,178.91 L143.95,177.75 L142.58,176.48 L141.18,175.15 L139.77,173.80 L138.42,172.48 L137.10,171.15 L135.79,169.77 L134.48,168.37 L133.16,166.96 L131.84,165.59 L130.50,164.28 L129.16,163.04 L127.81,161.84 L126.47,160.69 L125.13,159.57 L123.79,158.46 L122.45,157.35 L121.11,156.26 L119.77,155.20 L118.44,154.16 L117.10,153.12 L115.78,152.06 L114.45,150.96 L113.12,149.83 L111.79,148.67 L110.47,147.48 L109.14,146.28 L107.81,145.05 L106.48,143.80 L105.15,142.52 L103.82,141.20 L102.49,139.86 L101.15,138.51 L99.82,137.16 L98.48,135.82 L97.14,134.51 L95.82,133.24 L94.50,131.97 L93.18,130.68 L91.84,129.35 L90.49,127.94 L89.12,126.46 L87.74,124.92 L86.35,123.32 L84.93,121.68 L83.49,119.99 L82.00,118.27 L80.44,116.47 L78.81,114.59 L77.16,112.67 L75.51,110.75 L73.91,108.87 L72.39,107.09 L70.98,105.40 L69.64,103.78 L68.34,102.20 L67.07,100.64 L65.79,99.08 L64.49,97.50 L63.18,95.90 L61.89,94.30 L60.59,92.70 L59.27,91.10 L57.90,89.49 L56.46,87.88 L54.89,86.22 L53.21,84.51 L51.48,82.81 L49.79,81.16 L48.21,79.63 L46.83,78.27 L45.60,77.05 L44.45,75.93 L43.42,74.92 L42.52,74.04 L41.78,73.32 L41.22,72.77 Z" fill="#e8a22e" opacity="1.00"/>
<path d="M40.80,57.20 L41.57,57.48 L42.64,57.82 L43.90,58.25 L45.27,58.80 L46.67,59.51 L48.00,60.40 L49.29,61.53 L50.61,62.86 L51.95,64.36 L53.30,65.95 L54.66,67.58 L56.00,69.20 L57.33,70.83 L58.67,72.52 L60.01,74.25 L61.34,76.00 L62.67,77.76 L64.00,79.50 L65.32,81.24 L66.64,82.99 L67.95,84.74 L69.26,86.49 L70.58,88.21 L71.90,89.90 L73.23,91.55 L74.56,93.16 L75.89,94.75 L77.23,96.33 L78.57,97.91 L79.90,99.50 L81.23,101.11 L82.57,102.73 L83.90,104.35 L85.23,105.96 L86.57,107.55 L87.90,109.10 L89.21,110.57 L90.49,111.97 L91.77,113.34 L93.08,114.75 L94.45,116.25 L95.90,117.90 L97.49,119.77 L99.19,121.84 L100.95,124.00 L102.71,126.15 L104.41,128.18 L106.00,130.00 L107.45,131.60 L108.82,133.06 L110.13,134.41 L111.41,135.67 L112.69,136.86 L114.00,138.00 L115.33,139.05 L116.67,139.98 L118.00,140.84 L119.33,141.69 L120.67,142.55 L122.00,143.50 L123.33,144.53 L124.67,145.60 L126.01,146.70 L127.34,147.81 L128.67,148.92 L130.00,150.00 L131.32,151.04 L132.64,152.05 L133.95,153.06 L135.26,154.08 L136.58,155.15 L137.90,156.30 L139.23,157.55" fill="none" stroke="#5fdcf8" stroke-width="1.30" stroke-dasharray="1.4,0.9" opacity="1.00"/>
<path d="M138.68,158.09 L140.01,159.42 L141.33,160.80 L142.67,162.20 L144.01,163.57 L145.36,164.87 L146.71,166.12 L148.07,167.35 L149.43,168.55 L150.78,169.72 L152.10,170.82 L153.39,171.86 L154.63,172.80 L155.81,173.67 L156.97,174.48 L158.13,175.25 L159.31,176.00 L160.55,176.76 L161.85,177.53 L163.21,178.28 L164.58,179.00 L165.94,179.72 L167.27,180.42 L168.53,181.13 L169.76,181.88 L171.02,182.69 L172.27,183.52 L173.47,184.29 L174.60,184.95 L175.66,185.45 L176.65,185.68 L177.54,185.62 L178.19,185.38 L178.60,185.18 L178.80,185.11 L179.04,185.12 L179.53,185.26 L180.14,185.49 L180.79,185.77 L181.43,186.11 L182.03,186.47 L182.53,186.83 L182.88,187.16 L183.15,187.54 L183.46,188.04 L183.85,188.65 L184.38,189.34 L185.09,190.02 L185.94,190.70 L186.88,191.38 L187.91,192.08 L189.01,192.79 L190.16,193.50 L191.35,194.19 L192.59,194.88 L193.91,195.57 L195.27,196.25 L196.66,196.92 L198.05,197.57 L199.41,198.20 L200.76,198.79 L202.10,199.36 L203.45,199.91 L204.80,200.45 L206.15,200.96 L207.50,201.44 L208.85,201.91 L210.20,202.35 L211.55,202.77 L212.90,203.16 L214.25,203.54 L215.60,203.89 L216.96,204.22 L218.31,204.52 L219.66,204.79 L221.01,205.05 L222.35,205.29 L223.69,205.52 L225.06,205.75 L226.45,205.97 L227.85,206.18 L229.22,206.36 L230.54,206.52 L231.79,206.65 L232.92,206.74 L233.95,206.80 L234.93,206.83 L235.91,206.83 L236.94,206.81 L238.07,206.76 L239.33,206.67 L240.66,206.55 L242.03,206.39 L243.41,206.23 L244.78,206.09 L246.10,205.97 L247.40,205.89 L248.70,205.82 L250.01,205.76 L251.32,205.70 L252.64,205.65 L253.96,205.59 L255.30,205.52 L256.63,205.44 L257.97,205.37 L259.29,205.30 L260.62,205.25 L261.94,205.22 L263.28,205.20 L264.65,205.19 L266.01,205.18 L267.34,205.20 L268.62,205.24 L269.83,205.30 L270.95,205.38 L272.01,205.49 L273.02,205.62 L274.01,205.77 L275.01,205.94 L276.03,206.14 L277.03,206.35 L277.99,206.56 L278.94,206.80 L279.94,207.07 L281.03,207.39 L282.24,207.76 L283.63,208.23 L285.20,208.80 L286.87,209.42 L288.57,210.05 L290.24,210.62 L291.79,211.07 L293.20,211.42 L294.56,211.72 L295.88,211.96 L297.16,212.12 L298.42,212.17 L299.68,212.07 L300.90,211.77 L302.01,211.28 L302.97,210.70 L303.79,210.09 L304.48,209.52 L305.14,208.95 L305.80,208.20 L306.29,207.37 L306.60,206.68 L306.78,206.28 L306.61,206.43 L305.27,206.74 L304.61,206.37 L304.70,206.55 L304.94,207.11 L305.22,207.84 L305.54,208.63 L305.87,209.31 L306.12,209.82 L306.34,210.31 L306.61,210.90 L306.99,211.58 L307.57,212.28 L308.30,212.86 L309.07,213.28 L309.87,213.61 L310.75,213.87 L311.71,214.05 L312.74,214.14 L313.85,214.12 L315.03,213.99 L316.29,213.78 L317.61,213.50 L318.96,213.15 L320.31,212.75 L321.62,212.31 L322.94,211.79 L324.26,211.21 L325.57,210.58 L326.84,209.93 L328.05,209.29 L329.15,208.68 L330.17,208.14 L331.19,207.62 L332.22,207.05 L333.26,206.40 L334.28,205.60 L335.25,204.60 L336.10,203.36 L336.77,202.01 L337.31,200.67 L337.75,199.45 L338.09,198.46 L338.34,197.80 L334.06,196.20 L333.78,196.95 L333.45,197.96 L333.06,199.08 L332.63,200.18 L332.18,201.13 L331.75,201.80 L331.28,202.30 L330.68,202.79 L329.94,203.27 L329.08,203.78 L328.10,204.32 L327.05,204.92 L325.96,205.55 L324.83,206.20 L323.65,206.85 L322.47,207.46 L321.30,208.01 L320.18,208.49 L319.03,208.92 L317.83,209.32 L316.64,209.66 L315.49,209.95 L314.45,210.16 L313.55,210.28 L312.81,210.32 L312.15,210.29 L311.58,210.20 L311.07,210.07 L310.63,209.90 L310.30,209.74 L310.13,209.63 L310.02,209.49 L309.87,209.22 L309.67,208.80 L309.42,208.24 L309.13,207.69 L308.86,207.15 L308.58,206.47 L308.26,205.70 L307.90,204.91 L307.39,204.09 L306.13,203.26 L304.25,203.75 L303.62,204.60 L303.34,205.24 L303.11,205.77 L302.91,206.15 L302.66,206.45 L302.19,206.86 L301.61,207.37 L301.00,207.85 L300.39,208.25 L299.77,208.55 L299.12,208.73 L298.34,208.80 L297.41,208.78 L296.35,208.67 L295.18,208.49 L293.93,208.23 L292.61,207.93 L291.19,207.54 L289.61,207.04 L287.93,206.46 L286.25,205.87 L284.63,205.31 L283.16,204.84 L281.87,204.48 L280.73,204.17 L279.67,203.90 L278.65,203.67 L277.63,203.46 L276.57,203.26 L275.50,203.08 L274.44,202.92 L273.38,202.78 L272.30,202.66 L271.17,202.57 L269.97,202.50 L268.70,202.46 L267.36,202.45 L265.99,202.47 L264.61,202.49 L263.22,202.54 L261.86,202.58 L260.51,202.64 L259.17,202.71 L257.82,202.78 L256.48,202.86 L255.16,202.94 L253.84,203.01 L252.52,203.08 L251.21,203.13 L249.89,203.19 L248.57,203.26 L247.24,203.33 L245.90,203.43 L244.52,203.55 L243.13,203.71 L241.74,203.87 L240.40,204.02 L239.12,204.15 L237.93,204.24 L236.85,204.29 L235.88,204.31 L234.97,204.31 L234.06,204.29 L233.09,204.23 L232.01,204.15 L230.81,204.04 L229.53,203.89 L228.19,203.71 L226.82,203.51 L225.45,203.30 L224.11,203.08 L222.78,202.85 L221.46,202.62 L220.14,202.37 L218.82,202.11 L217.51,201.82 L216.20,201.51 L214.88,201.17 L213.57,200.81 L212.25,200.43 L210.93,200.03 L209.62,199.60 L208.30,199.16 L206.98,198.68 L205.67,198.19 L204.35,197.67 L203.03,197.14 L201.71,196.58 L200.39,196.00 L199.04,195.41 L197.66,194.79 L196.29,194.15 L194.94,193.50 L193.66,192.85 L192.45,192.21 L191.30,191.56 L190.18,190.89 L189.12,190.23 L188.13,189.57 L187.25,188.95 L186.51,188.38 L185.98,187.88 L185.60,187.40 L185.28,186.89 L184.93,186.34 L184.47,185.74 L183.87,185.17 L183.18,184.69 L182.45,184.26 L181.69,183.88 L180.91,183.54 L180.15,183.28 L179.36,183.08 L178.53,183.07 L177.83,183.28 L177.38,183.51 L177.10,183.63 L176.84,183.66 L176.34,183.55 L175.53,183.18 L174.50,182.60 L173.33,181.87 L172.08,181.06 L170.78,180.24 L169.47,179.47 L168.16,178.76 L166.80,178.07 L165.43,177.37 L164.06,176.67 L162.73,175.96 L161.45,175.24 L160.24,174.51 L159.07,173.78 L157.93,173.05 L156.79,172.28 L155.62,171.45 L154.41,170.54 L153.14,169.55 L151.82,168.48 L150.48,167.35 L149.13,166.16 L147.78,164.95 L146.44,163.73 L145.12,162.45 L143.79,161.11 L142.45,159.72 L141.11,158.34 L139.77,157.00 Z" fill="#5fdcf8" opacity="0.95"/>
<path d="M41.01,10.47 L41.50,10.32 L42.19,10.09 L42.98,9.84 L43.81,9.59 L44.60,9.40 L45.28,9.30 L45.86,9.27 L46.39,9.27 L46.88,9.30 L47.36,9.40 L47.88,9.57 L48.49,9.84 L49.14,10.19 L49.79,10.58 L50.48,11.05 L51.23,11.64 L52.10,12.39 L53.10,13.32 L54.24,14.45 L55.48,15.74 L56.82,17.19 L58.27,18.78 L59.81,20.49 L61.46,22.29 L63.23,24.26 L65.15,26.43 L67.17,28.71 L69.24,31.04 L71.32,33.33 L73.35,35.52 L75.45,37.69 L77.67,39.93 L79.88,42.13 L81.98,44.18 L83.85,45.99 L85.37,47.46 L86.35,48.37 L86.87,48.79 L87.16,48.96 L87.34,49.07 L87.85,49.50 L88.96,50.56 L90.71,52.27 L92.90,54.41 L95.38,56.86 L98.03,59.51 L100.72,62.25 L103.32,64.95 L105.75,67.56 L108.11,70.15 L110.51,72.84 L113.08,75.71 L115.94,78.88 L119.19,82.46 L122.98,86.56 L127.21,91.12 L131.73,95.98 L136.36,100.95 L140.93,105.88 L145.26,110.59 L149.48,115.21 L153.75,119.92 L157.96,124.58 L161.99,129.06 L165.76,133.21 L169.14,136.91 L172.10,140.11 L174.72,142.90 L177.07,145.36 L179.20,147.59 L181.16,149.65 L183.02,151.63 L184.67,153.44 L186.05,155.00 L187.27,156.41 L188.46,157.76 L189.75,159.16 L191.24,160.67 L192.93,162.28 L194.72,163.92 L196.59,165.57 L198.51,167.26 L200.47,168.98 L202.45,170.74 L204.53,172.60 L206.75,174.55 L209.01,176.53 L211.22,178.48 L213.29,180.33 L215.13,182.03 L216.72,183.55 L218.10,184.93 L219.36,186.23 L220.56,187.49 L221.76,188.75 L223.04,190.06 L224.40,191.44 L225.81,192.88 L227.22,194.32 L228.59,195.70 L229.87,196.97 L231.01,198.06 L231.95,198.93 L232.73,199.62 L233.42,200.19 L234.09,200.71 L234.80,201.23 L235.62,201.82 L236.59,202.49 L237.63,203.21 L238.74,203.95 L239.88,204.67 L241.03,205.35 L242.16,205.97 L243.28,206.50 L244.39,206.96 L245.47,207.36 L246.53,207.73 L247.56,208.10 L248.60,208.48 L249.66,208.88 L250.73,209.27 L251.79,209.65 L252.84,210.05 L253.87,210.45 L254.90,210.89 L255.93,211.36 L256.97,211.86 L258.01,212.38 L259.05,212.92 L260.09,213.48 L261.12,214.06 L262.14,214.67 L263.17,215.35 L264.22,216.06 L265.31,216.78 L266.42,217.49 L267.55,218.13 L268.69,218.70 L269.85,219.25 L271.01,219.75 L272.15,220.20 L273.24,220.59 L274.26,220.90 L275.17,221.13 L276.00,221.28 L276.79,221.36 L277.55,221.37 L278.31,221.34 L279.14,221.29 L280.06,221.20 L281.02,221.07 L282.01,220.90 L283.07,220.69 L284.19,220.43 L285.40,220.13 L286.76,219.79 L288.27,219.41 L289.88,218.97 L291.52,218.48 L293.14,217.93 L294.66,217.31 L296.10,216.62 L297.49,215.86 L298.83,215.05 L300.08,214.21 L301.23,213.37 L302.28,212.52 L303.20,211.62 L303.97,210.67 L304.60,209.76 L305.10,208.95 L305.51,208.29 L305.88,207.78 L306.27,207.31 L306.59,206.87 L306.78,206.62 L306.76,206.62 L306.38,206.77 L305.75,206.68 L305.45,206.45 L305.54,206.64 L305.80,207.19 L306.20,207.94 L306.84,208.76 L307.75,209.42 L308.70,209.78 L309.63,210.00 L310.62,210.15 L311.67,210.22 L312.77,210.21 L313.90,210.11 L315.10,209.93 L316.35,209.65 L317.64,209.31 L318.93,208.92 L320.21,208.50 L321.46,208.09 L322.71,207.64 L323.99,207.16 L325.27,206.65 L326.52,206.12 L327.73,205.59 L328.83,205.07 L329.82,204.64 L330.80,204.25 L331.84,203.81 L332.93,203.23 L333.99,202.42 L334.95,201.32 L335.72,200.01 L336.34,198.55 L336.84,197.02 L337.26,195.44 L337.63,193.87 L337.96,192.35 L338.25,190.70 L338.48,188.92 L338.66,187.15 L338.80,185.50 L338.90,184.14 L338.99,183.16 L335.41,182.84 L335.32,183.84 L335.21,185.21 L335.08,186.82 L334.91,188.52 L334.70,190.17 L334.44,191.65 L334.13,193.09 L333.79,194.57 L333.41,196.01 L332.99,197.32 L332.53,198.43 L332.05,199.28 L331.56,199.85 L331.01,200.27 L330.32,200.65 L329.46,201.02 L328.45,201.43 L327.37,201.93 L326.28,202.46 L325.14,202.98 L323.95,203.50 L322.74,204.00 L321.53,204.48 L320.34,204.91 L319.14,205.34 L317.92,205.75 L316.71,206.13 L315.55,206.46 L314.47,206.72 L313.50,206.89 L312.60,206.97 L311.74,206.99 L310.94,206.95 L310.23,206.86 L309.63,206.71 L309.25,206.58 L309.09,206.47 L308.92,206.21 L308.67,205.74 L308.39,205.14 L307.95,204.42 L307.05,203.72 L305.82,203.59 L304.91,203.98 L304.38,204.46 L304.03,204.90 L303.71,205.32 L303.32,205.82 L302.83,206.47 L302.35,207.22 L301.88,207.98 L301.37,208.72 L300.81,209.42 L300.12,210.08 L299.25,210.77 L298.21,211.52 L297.07,212.28 L295.86,213.01 L294.60,213.69 L293.34,214.29 L292.00,214.82 L290.52,215.31 L288.97,215.76 L287.42,216.17 L285.94,216.54 L284.60,216.87 L283.42,217.15 L282.36,217.38 L281.40,217.57 L280.51,217.72 L279.67,217.83 L278.86,217.91 L278.11,217.97 L277.49,218.01 L276.96,218.01 L276.45,217.97 L275.86,217.87 L275.14,217.70 L274.27,217.44 L273.29,217.11 L272.25,216.71 L271.17,216.27 L270.09,215.78 L269.05,215.27 L268.05,214.72 L267.03,214.10 L265.98,213.41 L264.90,212.71 L263.80,212.00 L262.68,211.34 L261.57,210.74 L260.48,210.17 L259.39,209.62 L258.30,209.10 L257.20,208.59 L256.10,208.11 L254.99,207.65 L253.89,207.24 L252.80,206.85 L251.72,206.47 L250.66,206.10 L249.60,205.72 L248.53,205.34 L247.47,204.99 L246.43,204.64 L245.42,204.28 L244.43,203.88 L243.44,203.43 L242.41,202.89 L241.33,202.27 L240.24,201.60 L239.16,200.91 L238.13,200.23 L237.18,199.58 L236.36,199.02 L235.69,198.55 L235.08,198.10 L234.45,197.59 L233.71,196.96 L232.79,196.14 L231.67,195.10 L230.39,193.88 L229.01,192.53 L227.58,191.12 L226.15,189.70 L224.76,188.34 L223.48,187.07 L222.27,185.83 L221.04,184.58 L219.74,183.28 L218.31,181.89 L216.67,180.37 L214.76,178.68 L212.64,176.84 L210.39,174.92 L208.10,172.98 L205.86,171.07 L203.75,169.26 L201.74,167.53 L199.76,165.83 L197.84,164.15 L195.98,162.51 L194.22,160.91 L192.56,159.33 L191.10,157.86 L189.85,156.51 L188.67,155.18 L187.44,153.77 L186.05,152.20 L184.38,150.37 L182.50,148.38 L180.52,146.32 L178.39,144.10 L176.05,141.64 L173.42,138.87 L170.46,135.69 L167.08,132.00 L163.32,127.86 L159.27,123.39 L155.05,118.74 L150.77,114.03 L146.54,109.41 L142.19,104.71 L137.61,99.79 L132.97,94.82 L128.44,89.98 L124.19,85.43 L120.41,81.34 L117.15,77.78 L114.30,74.62 L111.72,71.75 L109.31,69.07 L106.94,66.47 L104.48,63.85 L101.86,61.13 L99.15,58.39 L96.49,55.74 L93.99,53.29 L91.80,51.15 L90.04,49.44 L88.90,48.36 L88.29,47.84 L87.94,47.63 L87.78,47.54 L87.38,47.22 L86.43,46.34 L84.92,44.89 L83.05,43.08 L80.95,41.04 L78.74,38.85 L76.53,36.63 L74.45,34.48 L72.42,32.32 L70.35,30.04 L68.28,27.72 L66.26,25.45 L64.33,23.28 L62.54,21.31 L60.90,19.50 L59.35,17.80 L57.89,16.21 L56.53,14.75 L55.27,13.43 L54.10,12.28 L53.06,11.32 L52.14,10.53 L51.32,9.90 L50.57,9.38 L49.84,8.94 L49.11,8.56 L48.40,8.24 L47.72,8.02 L47.07,7.90 L46.44,7.85 L45.81,7.85 L45.12,7.90 L44.32,8.02 L43.45,8.23 L42.57,8.49 L41.75,8.75 L41.07,8.98 L40.59,9.13 Z" fill="#1a14f0" opacity="1.00"/>
</g>
<path d="M309.6,183.5 L306.2,199" stroke="#111" stroke-width="1.1"/>
<path d="M304.2,196.8 L305.7,202 L308.3,197.6 Z" fill="#111"/>
<line x1="256.7" y1="28.8" x2="277.7" y2="28.8" stroke="#1a14f0" stroke-width="1.5" opacity="0.32"/><rect x="263.7" y="25.3" width="7" height="7" fill="#1a14f0"/><text x="282.00" y="32.60" font-size="10.60" text-anchor="start" fill="#222" font-weight="normal" font-family="&quot;Liberation Sans&quot;, sans-serif" >iTT25</text><line x1="256.7" y1="41.0" x2="277.7" y2="41.0" stroke="#5fdcf8" stroke-width="1.0" opacity="0.50" stroke-dasharray="1.2,1.2"/><path d="M267.2,36.7 L271.4,44.0 L263.0,44.0 Z" fill="#5fdcf8"/><text x="282.00" y="44.80" font-size="10.60" text-anchor="start" fill="#222" font-weight="normal" font-family="&quot;Liberation Sans&quot;, sans-serif" >iTT40</text><line x1="256.7" y1="53.2" x2="277.7" y2="53.2" stroke="#6cf2a6" stroke-width="1.0" opacity="0.50" stroke-dasharray="3,2"/><path d="M263.2,50.4 L271.2,50.4 L267.2,57.0 Z" fill="#6cf2a6"/><text x="282.00" y="57.00" font-size="10.60" text-anchor="start" fill="#222" font-weight="normal" font-family="&quot;Liberation Sans&quot;, sans-serif" >iTT60</text><line x1="256.7" y1="65.4" x2="277.7" y2="65.4" stroke="#3fe81a" stroke-width="1.0" opacity="0.50" stroke-dasharray="2.2,1.2,0.8,1.2"/><path d="M262.2,65.4 L267.2,62.8 L272.2,65.4 L267.2,68.0 Z" fill="#3fe81a"/><text x="282.00" y="69.20" font-size="10.60" text-anchor="start" fill="#222" font-weight="normal" font-family="&quot;Liberation Sans&quot;, sans-serif" >iTT80</text><line x1="256.7" y1="77.6" x2="277.7" y2="77.6" stroke="#e8a22e" stroke-width="1.0" opacity="0.50" stroke-dasharray="2.5,1.2"/><path d="M262.6,77.6 L267.2,72.8 L271.8,77.6 L267.2,82.4 Z" fill="#e8a22e"/><text x="282.00" y="81.40" font-size="10.60" text-anchor="start" fill="#222" font-weight="normal" font-family="&quot;Liberation Sans&quot;, sans-serif" >iTT100</text>
<g stroke="#000" stroke-width="1.35" fill="none"><rect x="380.60" y="7.00" width="296.40" height="246.20"/><line x1="396.86" y1="253.20" x2="396.86" y2="256.40"/><line x1="396.86" y1="7.00" x2="396.86" y2="3.80"/><line x1="418.67" y1="253.20" x2="418.67" y2="256.40"/><line x1="418.67" y1="7.00" x2="418.67" y2="3.80"/><line x1="436.48" y1="253.20" x2="436.48" y2="256.40"/><line x1="436.48" y1="7.00" x2="436.48" y2="3.80"/><line x1="451.55" y1="253.20" x2="451.55" y2="256.40"/><line x1="451.55" y1="7.00" x2="451.55" y2="3.80"/><line x1="464.60" y1="253.20" x2="464.60" y2="256.40"/><line x1="464.60" y1="7.00" x2="464.60" y2="3.80"/><line x1="476.10" y1="253.20" x2="476.10" y2="256.40"/><line x1="476.10" y1="7.00" x2="476.10" y2="3.80"/><line x1="554.13" y1="253.20" x2="554.13" y2="256.40"/><line x1="554.13" y1="7.00" x2="554.13" y2="3.80"/><line x1="593.75" y1="253.20" x2="593.75" y2="256.40"/><line x1="593.75" y1="7.00" x2="593.75" y2="3.80"/><line x1="621.86" y1="253.20" x2="621.86" y2="256.40"/><line x1="621.86" y1="7.00" x2="621.86" y2="3.80"/><line x1="643.67" y1="253.20" x2="643.67" y2="256.40"/><line x1="643.67" y1="7.00" x2="643.67" y2="3.80"/><line x1="661.48" y1="253.20" x2="661.48" y2="256.40"/><line x1="661.48" y1="7.00" x2="661.48" y2="3.80"/><line x1="676.55" y1="253.20" x2="676.55" y2="256.40"/><line x1="676.55" y1="7.00" x2="676.55" y2="3.80"/><line x1="486.40" y1="253.20" x2="486.40" y2="260.00"/><line x1="486.40" y1="7.00" x2="486.40" y2="0.50"/><line x1="380.60" y1="241.05" x2="377.10" y2="241.05"/><line x1="677.00" y1="241.05" x2="680.50" y2="241.05"/><line x1="380.60" y1="221.81" x2="377.10" y2="221.81"/><line x1="677.00" y1="221.81" x2="680.50" y2="221.81"/><line x1="380.60" y1="205.54" x2="377.10" y2="205.54"/><line x1="677.00" y1="205.54" x2="680.50" y2="205.54"/><line x1="380.60" y1="191.45" x2="377.10" y2="191.45"/><line x1="677.00" y1="191.45" x2="680.50" y2="191.45"/><line x1="380.60" y1="179.02" x2="377.10" y2="179.02"/><line x1="677.00" y1="179.02" x2="680.50" y2="179.02"/><line x1="380.60" y1="94.75" x2="377.10" y2="94.75"/><line x1="677.00" y1="94.75" x2="680.50" y2="94.75"/><line x1="380.60" y1="51.96" x2="377.10" y2="51.96"/><line x1="677.00" y1="51.96" x2="680.50" y2="51.96"/><line x1="380.60" y1="21.60" x2="377.10" y2="21.60"/><line x1="677.00" y1="21.60" x2="680.50" y2="21.60"/><line x1="380.60" y1="167.90" x2="374.10" y2="167.90"/><line x1="677.00" y1="167.90" x2="683.50" y2="167.90"/></g>
<text x="396.86" y="264.20" font-size="7.60" text-anchor="middle" fill="#222" font-weight="normal" font-family="&quot;Liberation Sans&quot;, sans-serif" >4</text>
<text x="418.67" y="264.20" font-size="7.60" text-anchor="middle" fill="#222" font-weight="normal" font-family="&quot;Liberation Sans&quot;, sans-serif" >5</text>
<text x="436.48" y="264.20" font-size="7.60" text-anchor="middle" fill="#222" font-weight="normal" font-family="&quot;Liberation Sans&quot;, sans-serif" >6</text>
<text x="451.55" y="264.20" font-size="7.60" text-anchor="middle" fill="#222" font-weight="normal" font-family="&quot;Liberation Sans&quot;, sans-serif" >7</text>
<text x="464.60" y="264.20" font-size="7.60" text-anchor="middle" fill="#222" font-weight="normal" font-family="&quot;Liberation Sans&quot;, sans-serif" >8</text>
<text x="476.10" y="264.20" font-size="7.60" text-anchor="middle" fill="#222" font-weight="normal" font-family="&quot;Liberation Sans&quot;, sans-serif" >9</text>
<text x="554.13" y="264.20" font-size="7.60" text-anchor="middle" fill="#222" font-weight="normal" font-family="&quot;Liberation Sans&quot;, sans-serif" >2</text>
<text x="593.75" y="264.20" font-size="7.60" text-anchor="middle" fill="#222" font-weight="normal" font-family="&quot;Liberation Sans&quot;, sans-serif" >3</text>
<text x="621.86" y="264.20" font-size="7.60" text-anchor="middle" fill="#222" font-weight="normal" font-family="&quot;Liberation Sans&quot;, sans-serif" >4</text>
<text x="643.67" y="264.20" font-size="7.60" text-anchor="middle" fill="#222" font-weight="normal" font-family="&quot;Liberation Sans&quot;, sans-serif" >5</text>
<text x="661.48" y="264.20" font-size="7.60" text-anchor="middle" fill="#222" font-weight="normal" font-family="&quot;Liberation Sans&quot;, sans-serif" >6</text>
<text x="676.55" y="264.20" font-size="7.60" text-anchor="middle" fill="#222" font-weight="normal" font-family="&quot;Liberation Sans&quot;, sans-serif" >7</text>
<text x="486.40" y="274.40" font-size="10.60" text-anchor="middle" fill="#222" font-weight="normal" font-family="&quot;Liberation Sans&quot;, sans-serif" >0.01</text>
<text x="376.10" y="24.20" font-size="7.60" text-anchor="end" fill="#222" font-weight="normal" font-family="&quot;Liberation Sans&quot;, sans-serif" >4</text>
<text x="376.10" y="54.56" font-size="7.60" text-anchor="end" fill="#222" font-weight="normal" font-family="&quot;Liberation Sans&quot;, sans-serif" >3</text>
<text x="376.10" y="97.35" font-size="7.60" text-anchor="end" fill="#222" font-weight="normal" font-family="&quot;Liberation Sans&quot;, sans-serif" >2</text>
<text x="376.10" y="181.62" font-size="7.60" text-anchor="end" fill="#222" font-weight="normal" font-family="&quot;Liberation Sans&quot;, sans-serif" >9</text>
<text x="376.10" y="194.05" font-size="7.60" text-anchor="end" fill="#222" font-weight="normal" font-family="&quot;Liberation Sans&quot;, sans-serif" >8</text>
<text x="376.10" y="208.14" font-size="7.60" text-anchor="end" fill="#222" font-weight="normal" font-family="&quot;Liberation Sans&quot;, sans-serif" >7</text>
<text x="376.10" y="224.41" font-size="7.60" text-anchor="end" fill="#222" font-weight="normal" font-family="&quot;Liberation Sans&quot;, sans-serif" >6</text>
<text x="376.10" y="243.65" font-size="7.60" text-anchor="end" fill="#222" font-weight="normal" font-family="&quot;Liberation Sans&quot;, sans-serif" >5</text>
<text x="353.6" y="173.90" font-size="11" font-family="&quot;Liberation Sans&quot;, sans-serif" fill="#222">10<tspan font-size="8.2" dy="-7">-8</tspan></text>
<text transform="translate(361.5,153.8) rotate(-90)" font-size="11" font-family="&quot;Liberation Sans&quot;, sans-serif" fill="#222">I·q<tspan font-size="7" dy="-7.2" dx="1.3">2</tspan><tspan dy="7.2" dx="3.0">(a.u.)</tspan></text>
<text x="511.6" y="291.8" font-size="11.2" font-family="&quot;Liberation Sans&quot;, sans-serif" fill="#222">q [<tspan dx="1.4" font-size="12">Å</tspan><tspan font-size="7.5" dy="-6.3" dx="1.8">-1</tspan><tspan dy="6.3" dx="0.4">]</tspan></text>
<text x="362.50" y="13.90" font-size="10.00" text-anchor="start" fill="#1a1a1a" font-weight="normal" font-family="&quot;Liberation Sans&quot;, sans-serif" textLength="8.4" lengthAdjust="spacingAndGlyphs">B)</text>
<g clip-path="url(#clipB)">
<g stroke="#e8a22e" stroke-width="0.8" opacity="0.75"><line x1="466.5" y1="214.1" x2="466.5" y2="218.2"/><line x1="468.5" y1="216.3" x2="468.5" y2="221.7"/><line x1="470.5" y1="218.3" x2="470.5" y2="223.0"/><line x1="472.5" y1="220.3" x2="472.5" y2="226.0"/><line x1="474.5" y1="222.2" x2="474.5" y2="228.0"/><line x1="476.5" y1="224.0" x2="476.5" y2="227.3"/><line x1="478.5" y1="226.5" x2="478.5" y2="229.6"/><line x1="480.5" y1="229.0" x2="480.5" y2="235.7"/><line x1="482.5" y1="231.8" x2="482.5" y2="236.0"/><line x1="484.5" y1="233.9" x2="484.5" y2="237.9"/><line x1="486.5" y1="234.8" x2="486.5" y2="242.3"/><line x1="488.5" y1="235.3" x2="488.5" y2="240.4"/><line x1="490.5" y1="236.0" x2="490.5" y2="242.8"/><line x1="492.5" y1="236.5" x2="492.5" y2="241.6"/><line x1="494.5" y1="236.9" x2="494.5" y2="242.8"/><line x1="496.5" y1="237.1" x2="496.5" y2="240.8"/><line x1="498.5" y1="237.4" x2="498.5" y2="243.3"/><line x1="500.5" y1="237.8" x2="500.5" y2="244.7"/><line x1="502.5" y1="237.9" x2="502.5" y2="243.3"/><line x1="504.5" y1="238.1" x2="504.5" y2="244.5"/><line x1="506.5" y1="238.3" x2="506.5" y2="244.3"/><line x1="508.5" y1="238.4" x2="508.5" y2="241.7"/><line x1="510.5" y1="238.5" x2="510.5" y2="244.9"/><line x1="512.5" y1="238.7" x2="512.5" y2="244.3"/><line x1="514.5" y1="239.0" x2="514.5" y2="243.3"/><line x1="516.5" y1="239.6" x2="516.5" y2="242.8"/><line x1="518.5" y1="240.3" x2="518.5" y2="247.2"/><line x1="520.5" y1="240.8" x2="520.5" y2="245.9"/><line x1="522.5" y1="241.4" x2="522.5" y2="247.6"/><line x1="524.5" y1="241.8" x2="524.5" y2="248.7"/><line x1="526.5" y1="242.3" x2="526.5" y2="248.5"/><line x1="528.5" y1="242.5" x2="528.5" y2="249.7"/><line x1="530.5" y1="242.7" x2="530.5" y2="247.4"/><line x1="532.5" y1="242.7" x2="532.5" y2="249.3"/><line x1="534.5" y1="242.7" x2="534.5" y2="247.7"/><line x1="536.5" y1="242.3" x2="536.5" y2="249.5"/><line x1="538.5" y1="241.8" x2="538.5" y2="248.8"/><line x1="540.5" y1="241.1" x2="540.5" y2="244.6"/><line x1="542.5" y1="239.8" x2="542.5" y2="243.4"/><line x1="544.5" y1="238.9" x2="544.5" y2="242.8"/><line x1="546.5" y1="237.4" x2="546.5" y2="244.8"/></g>
<g stroke="#5fdcf8" stroke-width="0.8" opacity="0.6"><line x1="476.5" y1="217.8" x2="476.5" y2="221.1"/><line x1="478.5" y1="218.6" x2="478.5" y2="222.5"/><line x1="480.5" y1="219.3" x2="480.5" y2="222.2"/><line x1="482.5" y1="219.9" x2="482.5" y2="223.4"/><line x1="484.5" y1="220.4" x2="484.5" y2="223.5"/><line x1="486.5" y1="220.8" x2="486.5" y2="223.9"/><line x1="488.5" y1="221.2" x2="488.5" y2="224.9"/><line x1="490.5" y1="221.5" x2="490.5" y2="225.3"/><line x1="492.5" y1="221.7" x2="492.5" y2="226.4"/><line x1="494.5" y1="221.8" x2="494.5" y2="225.9"/><line x1="496.5" y1="221.9" x2="496.5" y2="226.7"/><line x1="498.5" y1="222.0" x2="498.5" y2="226.5"/><line x1="500.5" y1="222.0" x2="500.5" y2="226.9"/><line x1="502.5" y1="221.9" x2="502.5" y2="226.0"/><line x1="504.5" y1="221.9" x2="504.5" y2="224.4"/><line x1="506.5" y1="221.9" x2="506.5" y2="226.5"/><line x1="508.5" y1="221.9" x2="508.5" y2="226.8"/><line x1="510.5" y1="221.8" x2="510.5" y2="226.5"/><line x1="512.5" y1="221.8" x2="512.5" y2="225.5"/><line x1="514.5" y1="221.9" x2="514.5" y2="226.0"/><line x1="516.5" y1="222.1" x2="516.5" y2="224.7"/><line x1="518.5" y1="222.6" x2="518.5" y2="227.1"/><line x1="520.5" y1="223.0" x2="520.5" y2="226.7"/><line x1="522.5" y1="222.8" x2="522.5" y2="225.7"/><line x1="524.5" y1="222.3" x2="524.5" y2="224.5"/><line x1="526.5" y1="221.9" x2="526.5" y2="226.4"/><line x1="528.5" y1="221.4" x2="528.5" y2="226.3"/><line x1="530.5" y1="220.8" x2="530.5" y2="223.1"/></g>
<line x1="634.3" y1="64" x2="634.3" y2="86" stroke="#3fe81a" stroke-width="0.8" stroke-dasharray="1.5,1.5" opacity="0.8"/>
<line x1="634.3" y1="86" x2="634.3" y2="114" stroke="#e8a22e" stroke-width="0.8" stroke-dasharray="1.5,1.5" opacity="0.8"/>
<path d="M380.90,45.20 L381.09,44.94 L381.34,44.52 L381.65,44.05 L382.00,43.66 L382.39,43.47 L382.80,43.60 L383.26,44.14 L383.77,45.02 L384.32,46.09 L384.89,47.24 L385.45,48.32 L386.00,49.20 L386.54,49.92 L387.10,50.57 L387.65,51.17 L388.19,51.69 L388.71,52.14 L389.20,52.50 L389.65,52.70 L390.06,52.74 L390.45,52.70 L390.83,52.67 L391.21,52.74 L391.60,53.00 L391.97,53.47 L392.31,54.07 L392.65,54.78 L393.02,55.55 L393.46,56.33 L394.00,57.10 L394.66,57.86 L395.43,58.65 L396.26,59.46 L397.12,60.27 L397.98,61.09 L398.80,61.90 L399.60,62.73 L400.40,63.59 L401.20,64.46 L401.99,65.29 L402.76,66.04 L403.50,66.70 L404.21,67.21 L404.89,67.59 L405.54,67.89 L406.19,68.19 L406.84,68.54 L407.50,69.00 L408.16,69.59 L408.80,70.27 L409.45,70.99 L410.11,71.73 L410.79,72.45 L411.50,73.10 L412.26,73.70 L413.07,74.27 L413.90,74.82 L414.73,75.34 L415.54,75.83 L416.30,76.30 L417.01,76.71 L417.69,77.06 L418.35,77.39 L419.00,77.71 L419.64,78.08 L420.30,78.50 L420.96,78.99 L421.60,79.52 L422.25,80.09 L422.91,80.68 L423.59,81.28 L424.30,81.90 L425.04,82.54 L425.78,83.22 L426.55,83.91 L427.35,84.60 L428.20,85.27 L429.10,85.90 L430.09,86.47 L431.17,87.00 L432.30,87.50 L433.43,88.00 L434.51,88.53 L435.50,89.10 L436.37,89.74 L437.16,90.43 L437.90,91.15 L438.64,91.86 L439.43,92.52 L440.30,93.10 L441.28,93.58 L442.32,93.97 L443.41,94.31 L444.51,94.66 L445.62,95.04 L446.70,95.50 L447.77,96.07 L448.86,96.73 L449.94,97.43 L451.00,98.12 L452.03,98.76 L453.00,99.30 L453.87,99.70 L454.65,100.00 L455.39,100.24 L456.16,100.48 L457.01,100.78 L458.00,101.20 L459.16,101.75 L460.44,102.41 L461.81,103.12 L463.22,103.85 L464.63,104.56 L466.00,105.20 L467.33,105.79 L468.67,106.36 L470.01,106.90 L471.34,107.42 L472.67,107.92 L474.00,108.40 L475.32,108.86 L476.64,109.29 L477.95,109.70 L479.26,110.09 L480.58,110.46 L481.90,110.80 L483.23,111.11 L484.56,111.39 L485.89,111.65 L487.23,111.90 L488.57,112.14 L489.90,112.40 L491.23,112.66 L492.57,112.91 L493.90,113.16 L495.23,113.41 L496.57,113.69 L497.90,114.00 L499.23,114.34 L500.57,114.71 L501.90,115.10 L503.23,115.50 L504.57,115.90" fill="none" stroke="#6cf2a6" stroke-width="1.30" stroke-dasharray="1.8,1.0" opacity="1.00"/>
<path d="M504.33,116.69 L505.66,117.10 L507.00,117.50 L508.32,117.90 L509.65,118.31 L510.99,118.72 L512.32,119.12 L513.65,119.53 L514.98,119.94 L516.31,120.36 L517.65,120.77 L518.98,121.18 L520.32,121.58 L521.65,121.98 L523.03,122.37 L524.48,122.76 L525.91,123.15 L527.28,123.51 L528.52,123.84 L529.56,124.12 L530.30,124.32 L530.78,124.46 L531.14,124.56 L531.53,124.66 L532.04,124.78 L532.80,124.94 L533.86,125.17 L535.12,125.43 L536.51,125.72 L537.98,126.00 L539.45,126.27 L540.85,126.49 L542.20,126.68 L543.55,126.85 L544.90,126.99 L546.26,127.12 L547.60,127.23 L548.95,127.31 L550.28,127.38 L551.61,127.43 L552.94,127.46 L554.28,127.46 L555.63,127.41 L557.00,127.32 L558.36,127.16 L559.73,126.95 L561.09,126.71 L562.45,126.43 L563.80,126.12 L565.15,125.80 L566.50,125.46 L567.85,125.09 L569.20,124.70 L570.55,124.28 L571.90,123.84 L573.24,123.38 L574.59,122.90 L575.94,122.40 L577.29,121.87 L578.64,121.32 L579.98,120.75 L581.33,120.16 L582.68,119.54 L584.03,118.90 L585.37,118.24 L586.72,117.56 L588.07,116.86 L589.41,116.13 L590.76,115.38 L592.11,114.61 L593.47,113.82 L594.82,113.00 L596.17,112.16 L597.49,111.29 L598.79,110.43 L600.07,109.57 L601.36,108.67 L602.64,107.73 L603.93,106.71 L605.23,105.60 L606.52,104.36 L607.79,103.01 L609.04,101.62 L610.28,100.22 L611.52,98.86 L612.76,97.58 L614.03,96.41 L615.33,95.30 L616.67,94.20 L618.04,93.04 L619.43,91.77 L620.81,90.34 L622.14,88.80 L623.40,87.21 L624.65,85.54 L625.95,83.75 L627.35,81.80 L628.91,79.66 L630.72,77.17 L632.75,74.34 L634.89,71.35 L637.02,68.38 L639.04,65.61 L640.83,63.21 L642.37,61.26 L643.75,59.61 L645.04,58.15 L646.28,56.74 L647.53,55.27 L648.85,53.63 L650.20,51.84 L651.55,49.99 L652.89,48.10 L654.23,46.19 L655.57,44.29 L656.90,42.41 L658.23,40.57 L659.56,38.75 L660.90,36.92 L662.25,35.07 L663.59,33.17 L664.94,31.20 L666.32,29.11 L667.74,26.91 L669.16,24.67 L670.53,22.47 L671.82,20.38 L673.00,18.46 L674.08,16.66 L675.12,14.90 L676.07,13.25 L676.91,11.78 L677.61,10.55 L678.13,9.64 L675.87,8.36 L675.35,9.27 L674.66,10.50 L673.83,11.96 L672.89,13.60 L671.87,15.35 L670.80,17.14 L669.64,19.04 L668.36,21.13 L667.01,23.33 L665.61,25.56 L664.21,27.74 L662.86,29.80 L661.54,31.74 L660.22,33.62 L658.90,35.47 L657.57,37.29 L656.24,39.13 L654.90,40.99 L653.57,42.88 L652.24,44.80 L650.91,46.70 L649.58,48.58 L648.27,50.41 L646.95,52.17 L645.69,53.75 L644.48,55.19 L643.25,56.59 L641.96,58.08 L640.55,59.78 L638.97,61.79 L637.16,64.23 L635.14,67.03 L633.01,70.02 L630.89,73.02 L628.88,75.85 L627.09,78.34 L625.53,80.49 L624.14,82.44 L622.86,84.22 L621.64,85.86 L620.44,87.40 L619.19,88.86 L617.89,90.20 L616.59,91.40 L615.27,92.52 L613.93,93.63 L612.58,94.78 L611.24,96.02 L609.93,97.37 L608.66,98.77 L607.41,100.18 L606.19,101.55 L604.98,102.84 L603.77,104.00 L602.56,105.05 L601.33,106.02 L600.10,106.93 L598.86,107.80 L597.59,108.65 L596.31,109.51 L595.01,110.35 L593.70,111.18 L592.38,111.98 L591.05,112.77 L589.72,113.53 L588.39,114.27 L587.07,114.99 L585.75,115.68 L584.43,116.36 L583.11,117.01 L581.79,117.63 L580.47,118.24 L579.15,118.83 L577.83,119.39 L576.51,119.93 L575.19,120.45 L573.87,120.94 L572.56,121.42 L571.24,121.87 L569.92,122.30 L568.60,122.71 L567.28,123.10 L565.97,123.46 L564.65,123.80 L563.33,124.12 L562.01,124.42 L560.70,124.69 L559.39,124.93 L558.09,125.13 L556.80,125.28 L555.52,125.38 L554.24,125.42 L552.96,125.43 L551.67,125.40 L550.37,125.35 L549.05,125.29 L547.74,125.21 L546.43,125.11 L545.11,124.99 L543.79,124.85 L542.46,124.69 L541.15,124.51 L539.78,124.30 L538.33,124.05 L536.89,123.78 L535.50,123.52 L534.25,123.27 L533.20,123.06 L532.45,122.90 L531.98,122.80 L531.64,122.71 L531.30,122.62 L530.80,122.48 L530.04,122.28 L528.99,122.02 L527.75,121.70 L526.39,121.35 L524.95,120.98 L523.52,120.60 L522.15,120.22 L520.83,119.85 L519.50,119.46 L518.16,119.07 L516.83,118.67 L515.49,118.27 L514.15,117.87 L512.82,117.47 L511.48,117.08 L510.15,116.68 L508.81,116.29 L507.47,115.89 L506.14,115.50 L504.80,115.11 Z" fill="#6cf2a6" opacity="0.90"/>
<path d="M381.20,93.10 L381.56,93.76 L382.06,94.70 L382.65,95.80 L383.27,96.92 L383.88,97.93 L384.40,98.70 L384.85,99.14 L385.26,99.36 L385.65,99.46 L386.03,99.57 L386.41,99.81 L386.80,100.30 L387.19,101.13 L387.57,102.23 L387.95,103.46 L388.34,104.69 L388.75,105.78 L389.20,106.60 L389.71,107.04 L390.27,107.19 L390.85,107.19 L391.42,107.23 L391.95,107.44 L392.40,108.00 L392.74,108.95 L392.99,110.18 L393.20,111.59 L393.41,113.09 L393.66,114.59 L394.00,116.00 L394.42,117.36 L394.89,118.76 L395.40,120.16 L395.96,121.52 L396.56,122.81 L397.20,124.00 L397.92,125.03 L398.71,125.93 L399.55,126.75 L400.40,127.57 L401.23,128.47 L402.00,129.50 L402.71,130.71 L403.40,132.04 L404.06,133.44 L404.70,134.86 L405.35,136.23 L406.00,137.50 L406.65,138.65 L407.27,139.72 L407.90,140.75 L408.54,141.77 L409.20,142.81 L409.90,143.90 L410.65,145.05 L411.43,146.24 L412.24,147.45 L413.07,148.67 L413.89,149.89 L414.70,151.10 L415.51,152.31 L416.33,153.53 L417.15,154.75 L417.96,155.96 L418.75,157.15 L419.50,158.30 L420.21,159.41 L420.89,160.49 L421.55,161.55 L422.20,162.60 L422.84,163.64 L423.50,164.70 L424.14,165.75 L424.74,166.78 L425.35,167.81 L425.99,168.86 L426.69,169.95 L427.50,171.10 L428.44,172.34 L429.49,173.64 L430.61,174.99 L431.74,176.36 L432.86,177.70 L433.90,179.00 L434.82,180.23 L435.66,181.40 L436.46,182.56 L437.31,183.74 L438.27,184.97 L439.40,186.30" fill="none" stroke="#e8a22e" stroke-width="1.20" stroke-dasharray="1.6,0.8" opacity="1.00"/>
<path d="M438.91,186.75 L440.26,188.20 L441.77,189.73 L443.39,191.31 L445.06,192.91 L446.72,194.51 L448.31,196.09 L449.87,197.63 L451.41,199.16 L452.95,200.67 L454.49,202.22 L456.03,203.81 L457.57,205.48 L459.11,207.26 L460.66,209.15 L462.22,211.11 L463.79,213.07 L465.37,214.98 L466.95,216.80 L468.58,218.52 L470.25,220.19 L471.91,221.80 L473.52,223.34 L475.01,224.81 L476.32,226.21 L477.41,227.55 L478.33,228.88 L479.17,230.18 L480.00,231.42 L480.92,232.59 L482.00,233.61 L483.18,234.43 L484.38,235.08 L485.62,235.59 L486.92,236.01 L488.30,236.39 L489.81,236.78 L491.49,237.19 L493.34,237.56 L495.28,237.89 L497.27,238.20 L499.26,238.48 L501.21,238.73 L503.16,238.93 L505.16,239.07 L507.15,239.19 L509.06,239.30 L510.85,239.45 L512.46,239.66 L513.84,239.95 L515.06,240.30 L516.19,240.69 L517.31,241.10 L518.49,241.50 L519.78,241.86 L521.13,242.20 L522.52,242.53 L523.95,242.85 L525.41,243.14 L526.87,243.37 L528.33,243.51 L529.76,243.60 L531.19,243.65 L532.64,243.64 L534.10,243.55 L535.58,243.34 L537.06,243.00 L538.54,242.50 L539.99,241.86 L541.41,241.12 L542.80,240.32 L544.19,239.51 L545.56,238.73 L546.95,237.98 L548.35,237.23 L549.77,236.44 L551.20,235.61 L552.63,234.69 L554.07,233.67 L555.50,232.57 L556.92,231.42 L558.34,230.19 L559.77,228.87 L561.19,227.46 L562.62,225.95 L564.04,224.30 L565.46,222.54 L566.87,220.69 L568.28,218.79 L569.68,216.88 L571.08,214.98 L572.49,213.07 L573.89,211.13 L575.29,209.17 L576.70,207.19 L578.10,205.23 L579.50,203.27 L580.90,201.31 L582.30,199.34 L583.70,197.37 L585.10,195.41 L586.50,193.48 L587.89,191.59 L589.29,189.72 L590.71,187.88 L592.14,186.06 L593.54,184.25 L594.90,182.45 L596.20,180.68 L597.42,178.95 L598.57,177.26 L599.68,175.60 L600.76,173.94 L601.84,172.26 L602.94,170.53 L604.06,168.76 L605.19,166.96 L606.32,165.13 L607.44,163.28 L608.56,161.40 L609.67,159.49 L610.75,157.56 L611.79,155.60 L612.82,153.63 L613.86,151.64 L614.94,149.64 L616.09,147.61 L617.31,145.55 L618.60,143.44 L619.93,141.31 L621.29,139.16 L622.65,137.00 L624.00,134.86 L625.33,132.75 L626.66,130.67 L628.00,128.58 L629.35,126.46 L630.70,124.29 L632.04,122.05 L633.39,119.74 L634.73,117.35 L636.08,114.93 L637.41,112.49 L638.75,110.05 L640.09,107.65 L641.43,105.25 L642.79,102.83 L644.15,100.41 L645.50,98.02 L646.83,95.66 L648.12,93.37 L649.39,91.12 L650.67,88.88 L651.93,86.68 L653.14,84.55 L654.29,82.50 L655.36,80.57 L656.27,78.83 L657.04,77.30 L657.74,75.88 L658.44,74.44 L659.22,72.88 L660.18,71.08 L661.34,68.96 L662.66,66.61 L664.08,64.11 L665.52,61.57 L666.92,59.07 L668.21,56.69 L669.41,54.40 L670.59,52.12 L671.72,49.89 L672.79,47.74 L673.77,45.71 L674.66,43.84 L675.47,42.08 L676.20,40.40 L676.85,38.84 L677.40,37.47 L677.86,36.34 L678.20,35.49 L675.80,34.51 L675.45,35.37 L675.00,36.50 L674.45,37.86 L673.82,39.39 L673.11,41.04 L672.34,42.76 L671.47,44.60 L670.49,46.61 L669.44,48.75 L668.33,50.97 L667.17,53.24 L665.99,55.51 L664.73,57.86 L663.35,60.36 L661.92,62.90 L660.52,65.40 L659.19,67.77 L658.02,69.92 L657.06,71.77 L656.27,73.37 L655.56,74.82 L654.88,76.24 L654.13,77.73 L653.24,79.43 L652.20,81.35 L651.07,83.38 L649.87,85.52 L648.62,87.72 L647.35,89.96 L646.08,92.23 L644.80,94.53 L643.49,96.89 L642.15,99.29 L640.80,101.71 L639.45,104.14 L638.11,106.55 L636.78,108.97 L635.45,111.42 L634.12,113.86 L632.80,116.28 L631.48,118.65 L630.16,120.95 L628.84,123.16 L627.51,125.31 L626.18,127.42 L624.86,129.52 L623.53,131.62 L622.20,133.74 L620.87,135.88 L619.52,138.04 L618.17,140.21 L616.84,142.36 L615.55,144.49 L614.31,146.59 L613.16,148.66 L612.07,150.69 L611.03,152.70 L610.01,154.67 L608.99,156.60 L607.93,158.51 L606.84,160.39 L605.73,162.25 L604.62,164.09 L603.50,165.91 L602.38,167.70 L601.26,169.47 L600.16,171.19 L599.09,172.86 L598.02,174.51 L596.93,176.15 L595.80,177.82 L594.60,179.52 L593.32,181.27 L591.97,183.04 L590.58,184.84 L589.15,186.67 L587.72,188.53 L586.31,190.41 L584.91,192.33 L583.51,194.27 L582.11,196.23 L580.71,198.20 L579.30,200.17 L577.90,202.13 L576.50,204.09 L575.10,206.06 L573.71,208.03 L572.31,209.99 L570.91,211.92 L569.52,213.82 L568.12,215.73 L566.72,217.64 L565.33,219.52 L563.94,221.34 L562.56,223.06 L561.18,224.65 L559.81,226.11 L558.43,227.48 L557.06,228.75 L555.68,229.95 L554.30,231.07 L552.93,232.13 L551.56,233.10 L550.20,233.97 L548.82,234.78 L547.43,235.55 L546.04,236.30 L544.64,237.07 L543.24,237.86 L541.85,238.67 L540.49,239.45 L539.16,240.15 L537.84,240.74 L536.54,241.20 L535.23,241.50 L533.91,241.69 L532.57,241.78 L531.21,241.80 L529.84,241.76 L528.47,241.69 L527.10,241.56 L525.72,241.35 L524.32,241.08 L522.93,240.78 L521.55,240.45 L520.22,240.14 L519.02,239.80 L517.90,239.43 L516.77,239.02 L515.58,238.62 L514.25,238.25 L512.74,237.94 L511.03,237.72 L509.18,237.58 L507.24,237.48 L505.26,237.38 L503.30,237.25 L501.39,237.07 L499.48,236.83 L497.51,236.56 L495.54,236.27 L493.63,235.95 L491.83,235.60 L490.19,235.22 L488.71,234.84 L487.38,234.47 L486.17,234.09 L485.05,233.64 L484.01,233.09 L483.00,232.39 L482.08,231.53 L481.26,230.50 L480.47,229.32 L479.62,228.02 L478.65,226.62 L477.48,225.19 L476.10,223.74 L474.58,222.25 L472.96,220.70 L471.30,219.11 L469.65,217.48 L468.05,215.80 L466.50,214.03 L464.93,212.14 L463.36,210.19 L461.79,208.24 L460.21,206.33 L458.63,204.52 L457.06,202.83 L455.50,201.23 L453.95,199.68 L452.39,198.16 L450.84,196.64 L449.29,195.11 L447.67,193.53 L446.00,191.93 L444.33,190.33 L442.72,188.77 L441.22,187.27 L439.89,185.85 Z" fill="#e8a22e" opacity="1.00"/>
<path d="M381.50,102.50 L381.52,102.60 L381.53,102.68 L381.55,102.80 L381.61,103.02 L381.75,103.40 L382.00,104.00 L382.37,104.86 L382.84,105.95 L383.38,107.19 L383.97,108.53 L384.59,109.89 L385.20,111.20 L385.83,112.52 L386.50,113.93 L387.20,115.35 L387.90,116.74 L388.57,118.04 L389.20,119.20 L389.76,120.15 L390.27,120.92 L390.75,121.61 L391.24,122.29 L391.78,123.06 L392.40,124.00 L393.11,125.16 L393.88,126.49 L394.70,127.90 L395.54,129.32 L396.38,130.68 L397.20,131.90 L398.00,132.95 L398.80,133.88 L399.61,134.74 L400.41,135.60 L401.21,136.50 L402.00,137.50 L402.79,138.62 L403.57,139.81 L404.35,141.05 L405.13,142.30 L405.91,143.53 L406.70,144.70 L407.49,145.81 L408.29,146.89 L409.09,147.95 L409.90,149.00 L410.70,150.04 L411.50,151.10 L412.30,152.18 L413.10,153.26 L413.90,154.35 L414.70,155.43 L415.50,156.48 L416.30,157.50 L417.10,158.48 L417.90,159.43 L418.70,160.35 L419.50,161.26 L420.30,162.18 L421.10,163.10 L421.90,164.03 L422.70,164.94 L423.50,165.86 L424.30,166.78 L425.10,167.73 L425.90,168.70 L426.65,169.67 L427.36,170.63 L428.06,171.61 L428.81,172.64 L429.67,173.76 L430.70,175.00 L431.92,176.38 L433.29,177.87 L434.76,179.45 L436.30,181.09 L437.86,182.75 L439.40,184.40" fill="none" stroke="#5fdcf8" stroke-width="1.20" stroke-dasharray="1.2,0.9" opacity="1.00"/>
<path d="M438.95,184.81 L440.47,186.49 L442.02,188.22 L443.60,189.97 L445.18,191.73 L446.76,193.46 L448.33,195.14 L449.89,196.78 L451.44,198.39 L452.98,199.98 L454.53,201.54 L456.08,203.08 L457.64,204.58 L459.20,206.08 L460.76,207.57 L462.34,209.03 L463.91,210.45 L465.50,211.80 L467.08,213.05 L468.67,214.21 L470.25,215.29 L471.83,216.30 L473.42,217.24 L475.01,218.09 L476.61,218.86 L478.20,219.53 L479.80,220.11 L481.40,220.60 L482.99,221.03 L484.57,221.40 L486.16,221.73 L487.76,222.01 L489.35,222.22 L490.94,222.38 L492.53,222.50 L494.10,222.59 L495.67,222.67 L497.24,222.73 L498.80,222.75 L500.36,222.74 L501.91,222.72 L503.45,222.71 L505.01,222.70 L506.61,222.69 L508.28,222.67 L509.94,222.65 L511.54,222.64 L513.03,222.66 L514.33,222.72 L515.36,222.87 L516.21,223.09 L517.01,223.36 L517.87,223.63 L518.87,223.81 L520.04,223.84 L521.35,223.71 L522.76,223.48 L524.22,223.16 L525.72,222.78 L527.21,222.36 L528.66,221.93 L530.08,221.47 L531.51,220.96 L532.93,220.41 L534.35,219.83 L535.76,219.23 L537.16,218.61 L538.55,218.00 L539.95,217.38 L541.34,216.72 L542.75,216.02 L544.17,215.24 L545.59,214.36 L547.02,213.39 L548.45,212.34 L549.87,211.22 L551.29,210.05 L552.70,208.83 L554.12,207.58 L555.53,206.29 L556.94,204.95 L558.35,203.57 L559.77,202.13 L561.18,200.65 L562.59,199.12 L564.01,197.52 L565.42,195.85 L566.83,194.14 L568.23,192.41 L569.63,190.69 L571.03,189.00 L572.44,187.31 L573.88,185.60 L575.31,183.89 L576.73,182.20 L578.11,180.57 L579.42,179.02 L580.67,177.62 L581.86,176.33 L583.03,175.07 L584.19,173.79 L585.34,172.40 L586.50,170.85 L587.63,169.07 L588.73,167.14 L589.79,165.15 L590.84,163.17 L591.88,161.31 L592.92,159.63 L593.96,158.13 L595.02,156.73 L596.09,155.40 L597.15,154.14 L598.20,152.93 L599.23,151.75 L600.21,150.68 L601.14,149.73 L602.07,148.82 L603.03,147.88 L604.04,146.85 L605.14,145.66 L606.32,144.31 L607.56,142.85 L608.84,141.30 L610.15,139.72 L611.46,138.12 L612.77,136.55 L614.08,135.02 L615.41,133.50 L616.76,131.95 L618.12,130.36 L619.48,128.69 L620.84,126.92 L622.18,125.06 L623.51,123.12 L624.84,121.12 L626.16,119.07 L627.49,116.99 L628.82,114.87 L630.19,112.65 L631.61,110.30 L633.02,107.91 L634.40,105.56 L635.69,103.36 L636.86,101.36 L637.88,99.62 L638.78,98.08 L639.60,96.67 L640.37,95.32 L641.15,93.98 L641.98,92.58 L642.81,91.17 L643.58,89.85 L644.36,88.53 L645.19,87.14 L646.15,85.60 L647.27,83.83 L648.64,81.79 L650.21,79.51 L651.91,77.07 L653.65,74.54 L655.35,72.01 L656.93,69.53 L658.38,67.09 L659.75,64.63 L661.08,62.18 L662.38,59.77 L663.66,57.41 L664.97,55.13 L666.32,52.96 L667.72,50.87 L669.13,48.79 L670.52,46.70 L671.84,44.53 L673.05,42.25 L674.16,39.72 L675.21,36.95 L676.17,34.16 L677.02,31.56 L677.71,29.37 L678.23,27.81 L675.77,26.99 L675.24,28.57 L674.55,30.77 L673.73,33.34 L672.79,36.08 L671.79,38.76 L670.75,41.15 L669.63,43.27 L668.38,45.34 L667.03,47.39 L665.63,49.47 L664.22,51.62 L662.83,53.87 L661.51,56.21 L660.21,58.60 L658.92,61.03 L657.62,63.46 L656.27,65.88 L654.87,68.27 L653.34,70.70 L651.67,73.21 L649.96,75.73 L648.27,78.18 L646.70,80.48 L645.33,82.57 L644.18,84.37 L643.22,85.94 L642.38,87.36 L641.60,88.69 L640.84,90.02 L640.02,91.42 L639.19,92.84 L638.41,94.19 L637.64,95.54 L636.83,96.96 L635.95,98.50 L634.94,100.24 L633.77,102.24 L632.49,104.45 L631.13,106.79 L629.73,109.18 L628.33,111.52 L626.98,113.73 L625.67,115.84 L624.36,117.93 L623.06,119.96 L621.76,121.94 L620.46,123.85 L619.16,125.68 L617.85,127.40 L616.53,129.04 L615.20,130.61 L613.87,132.16 L612.54,133.70 L611.23,135.25 L609.92,136.84 L608.60,138.45 L607.30,140.03 L606.03,141.57 L604.81,143.02 L603.66,144.34 L602.61,145.49 L601.63,146.49 L600.68,147.41 L599.74,148.34 L598.78,149.33 L597.77,150.45 L596.72,151.64 L595.66,152.87 L594.57,154.16 L593.48,155.53 L592.38,156.99 L591.28,158.57 L590.20,160.33 L589.14,162.25 L588.08,164.24 L587.03,166.21 L585.97,168.08 L584.90,169.75 L583.83,171.21 L582.73,172.53 L581.62,173.78 L580.46,175.02 L579.24,176.33 L577.98,177.78 L576.65,179.34 L575.28,180.98 L573.86,182.66 L572.43,184.38 L570.99,186.10 L569.57,187.80 L568.17,189.50 L566.77,191.23 L565.37,192.96 L563.98,194.66 L562.59,196.30 L561.21,197.88 L559.82,199.38 L558.43,200.84 L557.05,202.26 L555.66,203.62 L554.27,204.94 L552.88,206.22 L551.50,207.45 L550.11,208.65 L548.72,209.80 L547.34,210.89 L545.97,211.91 L544.61,212.84 L543.26,213.67 L541.91,214.42 L540.56,215.10 L539.20,215.74 L537.82,216.36 L536.44,216.99 L535.05,217.61 L533.67,218.20 L532.28,218.78 L530.90,219.32 L529.52,219.82 L528.14,220.27 L526.73,220.70 L525.27,221.12 L523.83,221.49 L522.43,221.81 L521.12,222.03 L519.96,222.16 L519.03,222.14 L518.26,222.00 L517.52,221.77 L516.68,221.50 L515.68,221.24 L514.47,221.08 L513.08,221.01 L511.55,221.00 L509.92,221.02 L508.25,221.05 L506.59,221.08 L504.99,221.10 L503.44,221.11 L501.88,221.14 L500.34,221.17 L498.80,221.18 L497.27,221.17 L495.73,221.13 L494.18,221.06 L492.62,220.97 L491.07,220.87 L489.52,220.72 L487.98,220.53 L486.44,220.27 L484.89,219.95 L483.34,219.60 L481.80,219.20 L480.26,218.73 L478.73,218.18 L477.19,217.54 L475.66,216.81 L474.11,215.99 L472.57,215.10 L471.02,214.12 L469.47,213.07 L467.92,211.95 L466.37,210.73 L464.81,209.42 L463.25,208.03 L461.69,206.58 L460.12,205.10 L458.56,203.62 L457.01,202.13 L455.46,200.61 L453.92,199.06 L452.37,197.48 L450.82,195.88 L449.27,194.26 L447.70,192.59 L446.12,190.87 L444.53,189.13 L442.95,187.38 L441.39,185.66 L439.85,183.99 Z" fill="#5fdcf8" opacity="0.95"/>
<path d="M381.20,91.50 L381.36,91.30 L381.59,90.96 L381.85,90.58 L382.15,90.29 L382.47,90.19 L382.80,90.40 L383.14,90.97 L383.51,91.81 L383.90,92.86 L384.31,94.01 L384.74,95.18 L385.20,96.30 L385.69,97.47 L386.21,98.80 L386.75,100.14 L387.30,101.39 L387.86,102.42 L388.40,103.10 L388.94,103.29 L389.50,103.04 L390.05,102.58 L390.59,102.10 L391.11,101.80 L391.60,101.90 L392.04,102.42 L392.43,103.21 L392.80,104.19 L393.17,105.27 L393.56,106.37 L394.00,107.40 L394.47,108.41 L394.95,109.47 L395.45,110.54 L395.99,111.61 L396.56,112.64 L397.20,113.60 L397.91,114.48 L398.69,115.30 L399.51,116.09 L400.35,116.85 L401.19,117.62 L402.00,118.40 L402.79,119.19 L403.57,119.97 L404.35,120.76 L405.13,121.55 L405.91,122.36 L406.70,123.20 L407.49,124.08 L408.29,124.98 L409.09,125.90 L409.90,126.83 L410.70,127.77 L411.50,128.70 L412.31,129.66 L413.13,130.68 L413.95,131.69 L414.76,132.67 L415.55,133.55 L416.30,134.30 L417.01,134.86 L417.69,135.25 L418.35,135.55 L419.00,135.84 L419.64,136.20 L420.30,136.70 L420.96,137.36 L421.60,138.12 L422.25,138.95 L422.91,139.81 L423.59,140.67 L424.30,141.50 L425.04,142.32 L425.78,143.16 L426.55,144.00 L427.35,144.82 L428.20,145.59 L429.10,146.30 L430.07,146.91 L431.11,147.43 L432.20,147.90 L433.31,148.37 L434.41,148.89 L435.50,149.50 L436.57,150.23 L437.63,151.04 L438.70,151.90 L439.77,152.76 L440.83,153.57 L441.90,154.30 L442.99,154.92 L444.10,155.46 L445.21,155.95 L446.29,156.43 L447.33,156.94 L448.30,157.50 L449.13,158.11 L449.84,158.74 L450.49,159.40 L451.19,160.08 L451.99,160.78 L453.00,161.50 L454.21,162.26" fill="none" stroke="#3fe81a" stroke-width="1.20" stroke-dasharray="1.6,0.8,0.8,0.8" opacity="1.00"/>
<path d="M453.90,162.79 L455.26,163.61 L456.74,164.44 L458.31,165.29 L459.96,166.10 L461.65,166.88 L463.44,167.62 L465.34,168.34 L467.32,169.03 L469.29,169.70 L471.20,170.33 L472.99,170.93 L474.65,171.49 L476.23,172.03 L477.76,172.53 L479.28,173.00 L480.80,173.42 L482.36,173.78 L483.91,174.06 L485.41,174.27 L486.90,174.43 L488.43,174.55 L490.06,174.68 L491.84,174.83 L493.86,174.99 L496.08,175.16 L498.40,175.33 L500.72,175.49 L502.94,175.64 L504.95,175.77 L506.79,175.88 L508.52,175.96 L510.14,176.02 L511.64,176.09 L513.04,176.18 L514.30,176.30 L515.37,176.47 L516.24,176.68 L517.03,176.92 L517.86,177.16 L518.81,177.37 L519.92,177.52 L521.19,177.62 L522.56,177.69 L524.02,177.72 L525.52,177.72 L527.02,177.66 L528.49,177.55 L529.93,177.37 L531.37,177.12 L532.80,176.82 L534.21,176.49 L535.60,176.17 L536.98,175.87 L538.39,175.59 L539.84,175.30 L541.29,175.01 L542.71,174.72 L544.07,174.40 L545.34,174.07 L546.49,173.73 L547.54,173.39 L548.53,173.03 L549.47,172.65 L550.41,172.26 L551.37,171.84 L552.35,171.40 L553.29,170.95 L554.24,170.48 L555.21,169.97 L556.24,169.42 L557.35,168.81 L558.56,168.14 L559.87,167.41 L561.23,166.63 L562.63,165.81 L564.04,164.96 L565.41,164.08 L566.76,163.18 L568.11,162.24 L569.46,161.27 L570.80,160.27 L572.14,159.27 L573.47,158.25 L574.81,157.24 L576.15,156.22 L577.49,155.19 L578.84,154.11 L580.19,152.99 L581.54,151.81 L582.89,150.57 L584.24,149.27 L585.59,147.93 L586.93,146.56 L588.27,145.17 L589.60,143.77 L590.95,142.33 L592.31,140.85 L593.66,139.35 L595.00,137.86 L596.32,136.39 L597.62,134.96 L598.90,133.59 L600.15,132.25 L601.39,130.93 L602.63,129.61 L603.87,128.30 L605.12,126.98 L606.38,125.66 L607.63,124.35 L608.89,123.04 L610.16,121.71 L611.44,120.37 L612.74,118.99 L614.05,117.59 L615.39,116.18 L616.74,114.74 L618.09,113.27 L619.45,111.74 L620.80,110.17 L622.13,108.56 L623.45,106.92 L624.76,105.24 L626.07,103.51 L627.41,101.71 L628.78,99.83 L630.22,97.78 L631.74,95.56 L633.27,93.28 L634.76,91.05 L636.16,88.97 L637.42,87.14 L638.50,85.62 L639.46,84.32 L640.32,83.17 L641.16,82.06 L642.01,80.92 L642.93,79.67 L643.87,78.36 L644.80,77.07 L645.74,75.75 L646.72,74.35 L647.76,72.83 L648.88,71.14 L650.10,69.25 L651.41,67.18 L652.78,64.99 L654.17,62.75 L655.56,60.52 L656.92,58.34 L658.26,56.23 L659.59,54.15 L660.93,52.05 L662.28,49.94 L663.62,47.77 L664.97,45.53 L666.35,43.15 L667.77,40.65 L669.19,38.10 L670.56,35.60 L671.85,33.24 L673.02,31.11 L674.10,29.13 L675.14,27.23 L676.09,25.46 L676.93,23.89 L677.62,22.59 L678.15,21.61 L675.85,20.39 L675.33,21.37 L674.64,22.67 L673.81,24.24 L672.87,26.01 L671.85,27.91 L670.78,29.89 L669.62,32.03 L668.34,34.39 L666.98,36.89 L665.58,39.43 L664.18,41.92 L662.83,44.27 L661.51,46.48 L660.19,48.63 L658.87,50.75 L657.54,52.84 L656.21,54.94 L654.88,57.06 L653.52,59.25 L652.14,61.50 L650.76,63.74 L649.41,65.93 L648.12,67.98 L646.92,69.86 L645.82,71.53 L644.81,73.03 L643.85,74.42 L642.92,75.73 L642.00,77.02 L641.07,78.33 L640.18,79.57 L639.34,80.70 L638.51,81.81 L637.64,82.98 L636.68,84.30 L635.58,85.86 L634.32,87.72 L632.92,89.82 L631.43,92.07 L629.92,94.34 L628.43,96.55 L627.02,98.57 L625.68,100.44 L624.36,102.23 L623.07,103.95 L621.78,105.61 L620.50,107.24 L619.20,108.83 L617.88,110.38 L616.56,111.88 L615.23,113.35 L613.90,114.78 L612.57,116.20 L611.26,117.61 L609.98,118.99 L608.71,120.34 L607.45,121.66 L606.19,122.97 L604.94,124.29 L603.68,125.62 L602.43,126.94 L601.19,128.26 L599.96,129.57 L598.71,130.90 L597.46,132.25 L596.18,133.64 L594.87,135.07 L593.54,136.55 L592.21,138.05 L590.86,139.54 L589.53,141.01 L588.20,142.43 L586.87,143.83 L585.54,145.21 L584.21,146.57 L582.89,147.89 L581.57,149.17 L580.26,150.39 L578.95,151.54 L577.63,152.63 L576.31,153.69 L574.99,154.72 L573.66,155.73 L572.33,156.75 L571.00,157.76 L569.67,158.76 L568.34,159.75 L567.02,160.71 L565.70,161.63 L564.39,162.52 L563.05,163.37 L561.68,164.21 L560.30,165.02 L558.95,165.79 L557.66,166.52 L556.45,167.19 L555.35,167.80 L554.35,168.34 L553.40,168.84 L552.49,169.30 L551.57,169.73 L550.63,170.16 L549.68,170.58 L548.78,170.96 L547.87,171.32 L546.94,171.67 L545.95,172.00 L544.86,172.33 L543.64,172.64 L542.32,172.95 L540.92,173.25 L539.49,173.54 L538.04,173.83 L536.62,174.13 L535.21,174.45 L533.81,174.78 L532.42,175.11 L531.04,175.41 L529.67,175.66 L528.31,175.85 L526.92,175.96 L525.48,176.02 L524.03,176.04 L522.62,176.01 L521.29,175.96 L520.08,175.88 L519.09,175.75 L518.27,175.57 L517.49,175.34 L516.65,175.10 L515.67,174.88 L514.50,174.70 L513.16,174.58 L511.73,174.50 L510.20,174.44 L508.58,174.38 L506.86,174.32 L505.05,174.23 L503.04,174.11 L500.82,173.98 L498.50,173.83 L496.18,173.68 L493.97,173.53 L491.96,173.37 L490.17,173.24 L488.54,173.13 L487.03,173.01 L485.57,172.87 L484.13,172.68 L482.64,172.42 L481.13,172.08 L479.66,171.69 L478.17,171.24 L476.66,170.75 L475.08,170.22 L473.41,169.67 L471.61,169.09 L469.70,168.47 L467.73,167.82 L465.78,167.14 L463.90,166.43 L462.15,165.72 L460.50,164.97 L458.89,164.17 L457.34,163.36 L455.88,162.54 L454.53,161.73 Z" fill="#3fe81a" opacity="0.95"/>
<path d="M381.00,81.10 L381.22,80.93 L381.51,80.63 L381.87,80.30 L382.26,80.06 L382.68,80.03 L383.10,80.30 L383.54,80.95 L384.01,81.90 L384.50,83.05 L385.00,84.30 L385.51,85.55 L386.00,86.70 L386.49,87.86 L386.97,89.13 L387.46,90.40 L387.95,91.56 L388.43,92.50 L388.90,93.10 L389.36,93.21 L389.80,92.89 L390.23,92.35 L390.67,91.80 L391.12,91.44 L391.60,91.50 L392.11,92.03 L392.66,92.88 L393.22,93.92 L393.77,95.06 L394.31,96.15 L394.80,97.10 L395.24,97.92 L395.63,98.70 L396.00,99.44 L396.37,100.16 L396.76,100.84 L397.20,101.50 L397.67,102.09 L398.15,102.60 L398.66,103.08 L399.19,103.57 L399.77,104.13 L400.40,104.80 L401.10,105.61 L401.85,106.53 L402.65,107.51 L403.47,108.51 L404.29,109.49 L405.10,110.40 L405.89,111.25 L406.69,112.06 L407.49,112.85 L408.30,113.63 L409.10,114.41 L409.90,115.20 L410.70,116.03 L411.50,116.89 L412.30,117.75 L413.10,118.58 L413.90,119.34 L414.70,120.00 L415.50,120.52 L416.30,120.92 L417.10,121.26 L417.90,121.58 L418.70,121.94 L419.50,122.40 L420.30,122.95 L421.10,123.56 L421.90,124.20 L422.70,124.88 L423.50,125.58 L424.30,126.30 L425.10,127.07 L425.90,127.89 L426.70,128.74 L427.50,129.59 L428.30,130.38 L429.10,131.10 L429.90,131.71 L430.70,132.23 L431.50,132.70 L432.30,133.17 L433.10,133.69 L433.90,134.30 L434.70,135.04 L435.50,135.88 L436.30,136.77 L437.10,137.64 L437.90,138.44 L438.70,139.10 L439.50,139.60 L440.30,139.99 L441.10,140.31 L441.90,140.59 L442.70,140.87 L443.50,141.20 L444.30,141.56 L445.10,141.90 L445.91,142.26 L446.71,142.63 L447.51,143.04 L448.30,143.50 L449.09,144.03 L449.86,144.63 L450.64,145.27 L451.41,145.91 L452.20,146.53 L453.00,147.10 L453.78,147.60 L454.53,148.05 L455.29,148.47 L456.10,148.91 L456.99,149.37 L458.00,149.90 L459.16,150.50 L460.44,151.14 L461.81,151.83 L463.22,152.52 L464.63,153.22 L466.00,153.90 L467.33,154.56 L468.67,155.21" fill="none" stroke="#1a14f0" stroke-width="0.70" stroke-dasharray="1000,0" opacity="0.80"/>
<path d="M381.00,81.10 L381.22,80.93 L381.51,80.63 L381.87,80.30 L382.26,80.06 L382.68,80.03 L383.10,80.30 L383.54,80.95 L384.01,81.90 L384.50,83.05 L385.00,84.30 L385.51,85.55 L386.00,86.70 L386.49,87.86 L386.97,89.13 L387.46,90.40 L387.95,91.56 L388.43,92.50 L388.90,93.10 L389.36,93.21 L389.80,92.89 L390.23,92.35 L390.67,91.80 L391.12,91.44 L391.60,91.50 L392.11,92.03 L392.66,92.88 L393.22,93.92 L393.77,95.06 L394.31,96.15 L394.80,97.10 L395.24,97.92 L395.63,98.70 L396.00,99.44 L396.37,100.16 L396.76,100.84 L397.20,101.50 L397.67,102.09 L398.15,102.60 L398.66,103.08 L399.19,103.57 L399.77,104.13 L400.40,104.80 L401.10,105.61 L401.85,106.53 L402.65,107.51 L403.47,108.51 L404.29,109.49 L405.10,110.40 L405.89,111.25 L406.69,112.06 L407.49,112.85 L408.30,113.63 L409.10,114.41 L409.90,115.20 L410.70,116.03 L411.50,116.89 L412.30,117.75 L413.10,118.58 L413.90,119.34 L414.70,120.00 L415.50,120.52 L416.30,120.92 L417.10,121.26 L417.90,121.58 L418.70,121.94 L419.50,122.40 L420.30,122.95 L421.10,123.56 L421.90,124.20 L422.70,124.88 L423.50,125.58 L424.30,126.30 L425.10,127.07 L425.90,127.89 L426.70,128.74 L427.50,129.59 L428.30,130.38 L429.10,131.10 L429.90,131.71 L430.70,132.23 L431.50,132.70 L432.30,133.17 L433.10,133.69 L433.90,134.30 L434.70,135.04 L435.50,135.88 L436.30,136.77 L437.10,137.64 L437.90,138.44 L438.70,139.10 L439.50,139.60 L440.30,139.99 L441.10,140.31 L441.90,140.59 L442.70,140.87 L443.50,141.20 L444.30,141.56 L445.10,141.90 L445.91,142.26 L446.71,142.63 L447.51,143.04 L448.30,143.50 L449.09,144.03 L449.86,144.63 L450.64,145.27 L451.41,145.91 L452.20,146.53 L453.00,147.10 L453.78,147.60 L454.53,148.05 L455.29,148.47 L456.10,148.91 L456.99,149.37 L458.00,149.90 L459.16,150.50 L460.44,151.14 L461.81,151.83 L463.22,152.52 L464.63,153.22 L466.00,153.90 L467.33,154.56 L468.67,155.21" fill="none" stroke="#1a14f0" stroke-width="1.90" stroke-dasharray="1.6,1.2" opacity="0.95"/>
<path d="M469.67,156.53 L471.00,157.20 L472.32,157.88 L473.63,158.58 L474.93,159.32 L476.23,160.10 L477.54,160.91 L478.86,161.71 L480.19,162.49 L481.53,163.22 L482.89,163.88 L484.23,164.49 L485.58,165.05 L486.91,165.61 L488.23,166.17 L489.55,166.77 L490.88,167.40 L492.23,168.04 L493.58,168.69 L494.90,169.35 L496.19,170.04 L497.44,170.76 L498.61,171.51 L499.72,172.30 L500.82,173.13 L501.95,173.99 L503.17,174.87 L504.50,175.78 L505.99,176.72 L507.63,177.70 L509.32,178.70 L510.98,179.68 L512.53,180.60 L513.88,181.42 L514.96,182.14 L515.86,182.80 L516.67,183.43 L517.51,184.05 L518.47,184.64 L519.59,185.21 L520.89,185.74 L522.29,186.22 L523.75,186.66 L525.24,187.07 L526.72,187.45 L528.15,187.81 L529.54,188.17 L530.94,188.55 L532.37,188.91 L533.83,189.21 L535.31,189.41 L536.81,189.48 L538.32,189.40 L539.82,189.18 L541.30,188.86 L542.74,188.49 L544.13,188.08 L545.45,187.67 L546.70,187.25 L547.89,186.80 L549.03,186.32 L550.17,185.80 L551.32,185.24 L552.53,184.63 L553.78,184.00 L555.06,183.34 L556.38,182.63 L557.75,181.85 L559.18,180.97 L560.68,179.99 L562.26,178.86 L563.92,177.61 L565.62,176.28 L567.35,174.90 L569.07,173.51 L570.76,172.14 L572.43,170.80 L574.10,169.46 L575.78,168.10 L577.46,166.69 L579.15,165.23 L580.84,163.70 L582.54,162.07 L584.26,160.37 L585.98,158.62 L587.68,156.84 L589.33,155.07 L590.92,153.33 L592.47,151.57 L593.99,149.79 L595.46,148.01 L596.87,146.28 L598.21,144.63 L599.47,143.09 L600.60,141.69 L601.61,140.41 L602.55,139.22 L603.46,138.05 L604.42,136.87 L605.46,135.61 L606.60,134.30 L607.81,132.96 L609.06,131.58 L610.35,130.15 L611.66,128.66 L612.98,127.10 L614.30,125.46 L615.64,123.75 L616.99,121.99 L618.34,120.20 L619.68,118.43 L621.02,116.67 L622.34,114.95 L623.65,113.24 L624.97,111.52 L626.29,109.79 L627.61,108.04 L628.93,106.27 L630.28,104.46 L631.65,102.63 L633.02,100.78 L634.39,98.90 L635.72,97.01 L636.99,95.10 L638.20,93.17 L639.37,91.20 L640.50,89.23 L641.58,87.29 L642.62,85.42 L643.63,83.65 L644.57,82.02 L645.43,80.52 L646.25,79.09 L647.08,77.64 L647.99,76.10 L649.02,74.38 L650.20,72.46 L651.49,70.39 L652.85,68.22 L654.25,66.00 L655.66,63.78 L657.02,61.60 L658.35,59.49 L659.69,57.41 L661.02,55.31 L662.36,53.19 L663.70,51.02 L665.05,48.78 L666.43,46.39 L667.84,43.88 L669.25,41.32 L670.62,38.82 L671.91,36.46 L673.08,34.35 L674.15,32.41 L675.18,30.56 L676.13,28.85 L676.96,27.35 L677.66,26.09 L678.18,25.15 L675.82,23.85 L675.30,24.79 L674.61,26.04 L673.77,27.55 L672.83,29.25 L671.80,31.11 L670.72,33.05 L669.56,35.17 L668.27,37.53 L666.91,40.03 L665.51,42.58 L664.11,45.07 L662.75,47.42 L661.43,49.63 L660.11,51.78 L658.78,53.89 L657.45,55.98 L656.11,58.08 L654.78,60.20 L653.42,62.37 L652.02,64.59 L650.62,66.82 L649.26,69.00 L647.96,71.08 L646.78,73.02 L645.74,74.76 L644.82,76.32 L643.98,77.79 L643.16,79.23 L642.31,80.72 L641.37,82.35 L640.35,84.14 L639.30,86.02 L638.23,87.95 L637.12,89.89 L635.99,91.82 L634.81,93.70 L633.58,95.54 L632.28,97.40 L630.94,99.25 L629.58,101.09 L628.21,102.92 L626.87,104.73 L625.55,106.50 L624.24,108.24 L622.93,109.97 L621.62,111.68 L620.31,113.40 L618.98,115.13 L617.65,116.89 L616.31,118.67 L614.96,120.45 L613.63,122.20 L612.31,123.89 L611.02,125.50 L609.75,127.01 L608.46,128.47 L607.19,129.88 L605.94,131.27 L604.71,132.63 L603.54,133.99 L602.47,135.28 L601.50,136.49 L600.58,137.67 L599.65,138.86 L598.65,140.12 L597.53,141.51 L596.28,143.06 L594.94,144.71 L593.54,146.44 L592.09,148.19 L590.59,149.95 L589.08,151.67 L587.51,153.39 L585.88,155.15 L584.21,156.91 L582.52,158.64 L580.83,160.31 L579.16,161.90 L577.52,163.40 L575.87,164.83 L574.22,166.22 L572.57,167.57 L570.90,168.91 L569.24,170.26 L567.55,171.63 L565.83,173.02 L564.13,174.39 L562.45,175.70 L560.84,176.92 L559.32,178.01 L557.89,178.97 L556.54,179.81 L555.23,180.57 L553.96,181.27 L552.71,181.93 L551.47,182.57 L550.29,183.17 L549.17,183.73 L548.10,184.23 L547.04,184.69 L545.93,185.12 L544.75,185.53 L543.47,185.94 L542.14,186.34 L540.78,186.71 L539.43,187.02 L538.09,187.23 L536.79,187.32 L535.50,187.27 L534.19,187.10 L532.84,186.83 L531.46,186.50 L530.06,186.14 L528.65,185.79 L527.22,185.45 L525.76,185.08 L524.30,184.70 L522.90,184.29 L521.59,183.85 L520.41,183.39 L519.43,182.91 L518.62,182.40 L517.85,181.85 L517.03,181.23 L516.08,180.54 L514.92,179.78 L513.52,178.94 L511.95,178.03 L510.27,177.06 L508.58,176.08 L506.96,175.12 L505.50,174.22 L504.22,173.37 L503.04,172.52 L501.91,171.67 L500.78,170.84 L499.61,170.02 L498.36,169.24 L497.04,168.50 L495.70,167.79 L494.34,167.12 L492.97,166.48 L491.61,165.85 L490.25,165.23 L488.90,164.63 L487.55,164.07 L486.21,163.52 L484.88,162.97 L483.57,162.40 L482.27,161.78 L480.97,161.09 L479.67,160.34 L478.36,159.56 L477.04,158.76 L475.71,157.97 L474.37,157.22 L473.02,156.52 L471.68,155.85 L470.34,155.19 Z" fill="#1a14f0" opacity="1.00"/>
</g>
<line x1="604.0" y1="185.5" x2="624.3" y2="185.5" stroke="#1a14f0" stroke-width="1.5" opacity="0.32"/><rect x="610.9" y="182.0" width="7" height="7" fill="#1a14f0"/><text x="629.10" y="189.30" font-size="10.60" text-anchor="start" fill="#222" font-weight="normal" font-family="&quot;Liberation Sans&quot;, sans-serif" >sTT25C</text><line x1="604.0" y1="197.6" x2="624.3" y2="197.6" stroke="#5fdcf8" stroke-width="1.0" opacity="0.50" stroke-dasharray="1.2,1.2"/><path d="M614.4,193.3 L618.6,200.6 L610.2,200.6 Z" fill="#5fdcf8"/><text x="629.10" y="201.40" font-size="10.60" text-anchor="start" fill="#222" font-weight="normal" font-family="&quot;Liberation Sans&quot;, sans-serif" >sTT40C</text><line x1="604.0" y1="209.7" x2="624.3" y2="209.7" stroke="#6cf2a6" stroke-width="1.0" opacity="0.50" stroke-dasharray="3,2"/><path d="M610.4,206.9 L618.4,206.9 L614.4,213.5 Z" fill="#6cf2a6"/><text x="629.10" y="213.50" font-size="10.60" text-anchor="start" fill="#222" font-weight="normal" font-family="&quot;Liberation Sans&quot;, sans-serif" >sTT60C</text><line x1="604.0" y1="221.8" x2="624.3" y2="221.8" stroke="#3fe81a" stroke-width="1.0" opacity="0.50" stroke-dasharray="2.2,1.2,0.8,1.2"/><path d="M609.4,221.8 L614.4,219.2 L619.4,221.8 L614.4,224.4 Z" fill="#3fe81a"/><text x="629.10" y="225.60" font-size="10.60" text-anchor="start" fill="#222" font-weight="normal" font-family="&quot;Liberation Sans&quot;, sans-serif" >sTT80C</text><line x1="604.0" y1="233.9" x2="624.3" y2="233.9" stroke="#e8a22e" stroke-width="1.0" opacity="0.50" stroke-dasharray="2.5,1.2"/><path d="M609.8,233.9 L614.4,229.1 L619.0,233.9 L614.4,238.7 Z" fill="#e8a22e"/><text x="629.10" y="237.70" font-size="10.60" text-anchor="start" fill="#222" font-weight="normal" font-family="&quot;Liberation Sans&quot;, sans-serif" >sTT100C</text>
<rect x="126.5" y="305.5" width="463" height="195" fill="none" stroke="#222" stroke-width="1.1"/>
<text x="109.00" y="313.80" font-size="8.80" text-anchor="start" fill="#333" font-weight="normal" font-family="&quot;Liberation Sans&quot;, sans-serif" >C)</text>
<text x="285.30" y="342.30" font-size="10.90" text-anchor="middle" fill="#111" font-weight="bold" font-family="&quot;Liberation Sans&quot;, sans-serif" >RAW ULVA</text>
<text x="437.80" y="340.90" font-size="10.90" text-anchor="middle" fill="#111" font-weight="bold" font-family="&quot;Liberation Sans&quot;, sans-serif" >ULVA PROCESSED AT</text>
<text x="437.90" y="353.80" font-size="10.70" text-anchor="middle" fill="#111" font-weight="bold" font-family="&quot;Liberation Sans&quot;, sans-serif" >T&gt;60ºC</text>
<path d="M261.70,366.50 C262.92,367.38 266.82,370.32 269.00,371.80 C271.18,373.28 273.47,374.30 274.80,375.40 C276.13,376.50 276.52,377.13 277.00,378.40 C277.48,379.67 277.58,382.23 277.70,383.00" fill="none" stroke="#66b93c" stroke-width="2.1" stroke-linecap="round" stroke-linejoin="round"/>
<path d="M274.80,374.70 C276.02,374.33 278.93,373.23 282.10,372.50 C285.27,371.77 289.90,370.67 293.80,370.30 C297.70,369.93 302.10,370.05 305.50,370.30 C308.90,370.55 311.53,371.67 314.20,371.80 C316.87,371.93 319.78,371.58 321.50,371.10 C323.22,370.62 323.88,370.05 324.50,368.90 C325.12,367.75 325.08,364.98 325.20,364.20" fill="none" stroke="#66b93c" stroke-width="2.1" stroke-linecap="round" stroke-linejoin="round"/>
<path d="M311.30,371.80 C312.03,372.28 314.55,373.75 315.70,374.70 C316.85,375.65 317.78,377.03 318.20,377.50" fill="none" stroke="#66b93c" stroke-width="2.1" stroke-linecap="round" stroke-linejoin="round"/>
<path d="M269.70,391.50 C269.95,392.23 270.83,394.57 271.20,395.90 C271.57,397.23 271.18,398.35 271.90,399.50 C272.62,400.65 274.90,402.25 275.50,402.80" fill="none" stroke="#66b93c" stroke-width="2.1" stroke-linecap="round" stroke-linejoin="round"/>
<path d="M319.30,384.00 C319.43,384.77 319.73,387.47 320.10,388.60 C320.47,389.73 321.63,389.72 321.50,390.80 C321.37,391.88 320.15,393.60 319.30,395.10 C318.45,396.60 316.88,399.02 316.40,399.80" fill="none" stroke="#66b93c" stroke-width="2.1" stroke-linecap="round" stroke-linejoin="round"/>
<path d="M321.50,390.80 C322.00,390.43 323.52,389.02 324.50,388.60 C325.48,388.18 326.18,388.25 327.40,388.30 C328.62,388.35 330.83,388.98 331.80,388.90 C332.77,388.82 332.97,387.98 333.20,387.80" fill="none" stroke="#66b93c" stroke-width="2.1" stroke-linecap="round" stroke-linejoin="round"/>
<path d="M333.20,382.50 C333.20,383.38 332.95,386.05 333.20,387.80 C333.45,389.55 333.73,391.65 334.70,393.00 C335.67,394.35 337.30,394.90 339.00,395.90 C340.70,396.90 343.92,398.48 344.90,399.00" fill="none" stroke="#66b93c" stroke-width="2.1" stroke-linecap="round" stroke-linejoin="round"/>
<path d="M329.00,418.50 C328.00,419.75 325.20,424.25 323.00,426.00 C320.80,427.75 320.65,428.13 315.80,429.00 C310.95,429.87 300.12,431.13 293.90,431.20 C287.68,431.27 282.53,429.03 278.50,429.40 C274.47,429.77 271.17,432.73 269.70,433.40" fill="none" stroke="#66b93c" stroke-width="2.1" stroke-linecap="round" stroke-linejoin="round"/>
<path d="M334.50,418.50 C334.62,419.75 334.95,424.08 335.20,426.00 C335.45,427.92 335.57,428.83 336.00,430.00 C336.43,431.17 337.50,432.50 337.80,433.00" fill="none" stroke="#66b93c" stroke-width="2.1" stroke-linecap="round" stroke-linejoin="round"/>
<use href="#rod" transform="translate(247.00,364.80) rotate(-3.34) scale(0.978,1)"/>
<use href="#rod" transform="translate(257.50,388.70) rotate(-7.76) scale(0.982,1)"/>
<use href="#rod" transform="translate(262.10,408.20) rotate(-3.66) scale(0.983,1)"/>
<use href="#rod" transform="translate(263.80,418.90) rotate(-3.62) scale(0.976,1)"/>
<use href="#rod" transform="translate(258.10,441.10) rotate(-3.61) scale(0.979,1)"/>
<path d="M391.60,372.50 C392.93,372.92 397.05,373.50 399.60,375.00 C402.15,376.50 404.47,379.33 406.90,381.50 C409.33,383.67 411.52,386.12 414.20,388.00 C416.88,389.88 420.08,391.88 423.00,392.80 C425.92,393.72 429.27,393.83 431.70,393.50 C434.13,393.17 436.13,391.87 437.60,390.80 C439.07,389.73 439.05,388.08 440.50,387.10 C441.95,386.12 443.63,385.63 446.30,384.90 C448.97,384.17 454.07,383.43 456.50,382.70 C458.93,381.97 459.68,381.47 460.90,380.50 C462.12,379.53 462.58,377.87 463.80,376.90 C465.02,375.93 466.50,375.32 468.20,374.70 C469.90,374.08 472.28,374.07 474.00,373.20 C475.72,372.33 477.75,370.12 478.50,369.50" fill="none" stroke="#8dca70" stroke-width="4.1" stroke-linecap="round" stroke-linejoin="round"/>
<path d="M424.90,430.00 C426.33,430.70 430.48,433.13 433.50,434.20 C436.52,435.27 439.85,435.87 443.00,436.40 C446.15,436.93 449.25,437.13 452.40,437.40 C455.55,437.67 459.83,437.43 461.90,438.00 C463.97,438.57 463.53,440.12 464.80,440.80 C466.07,441.48 466.82,441.78 469.50,442.10 C472.18,442.42 477.10,442.43 480.90,442.70 C484.70,442.97 489.45,443.07 492.30,443.70 C495.15,444.33 496.42,445.40 498.00,446.50 C499.58,447.60 500.53,449.42 501.80,450.30 C503.07,451.18 504.97,451.55 505.60,451.80" fill="none" stroke="#8dca70" stroke-width="4.1" stroke-linecap="round" stroke-linejoin="round"/>
<path d="M454.00,438.00 C453.90,438.78 454.28,441.45 453.40,442.70 C452.52,443.95 450.60,444.72 448.70,445.50 C446.80,446.28 443.43,446.45 442.00,447.40 C440.57,448.35 440.42,449.93 440.10,451.20 C439.78,452.47 440.10,454.37 440.10,455.00" fill="none" stroke="#8dca70" stroke-width="4.1" stroke-linecap="round" stroke-linejoin="round"/>
<use href="#rod" transform="translate(393.00,367.10) rotate(1.41) scale(0.993,1)"/>
<use href="#rod" transform="translate(397.40,403.90) rotate(-3.47) scale(0.979,1)"/>
<use href="#rod" transform="translate(414.10,414.00) rotate(-3.04) scale(0.987,1)"/>
<use href="#rod" transform="translate(415.40,425.60) rotate(-3.48) scale(0.995,1)"/>
<use href="#rod" transform="translate(428.70,460.20) rotate(-3.52) scale(0.984,1)"/>
<use href="#rod" transform="translate(444.90,470.70) rotate(-3.59) scale(0.983,1)"/>
<path d="M477.5,369.5 L480.5,366" stroke="#8dca70" stroke-width="3" stroke-linecap="round"/>
<text x="139.50" y="389.80" font-size="9.30" text-anchor="start" fill="#1e1e1e" font-weight="normal" font-family="&quot;Liberation Sans&quot;, sans-serif" textLength="83" lengthAdjust="spacingAndGlyphs">Cellulose microfibril</text>
<path d="M225.5,384.8 L241,370.5" stroke="#777" stroke-width="0.9"/><path d="M242.6,369 L237.3,371.2 L240.2,374 Z" fill="#777"/>
<text x="192.50" y="418.40" font-size="9.30" text-anchor="start" fill="#1e1e1e" font-weight="normal" font-family="&quot;Liberation Sans&quot;, sans-serif" >xylose-rich</text>
<text x="192.50" y="429.60" font-size="9.30" text-anchor="start" fill="#1e1e1e" font-weight="normal" font-family="&quot;Liberation Sans&quot;, sans-serif" >domains in</text>
<text x="192.50" y="440.80" font-size="9.30" text-anchor="start" fill="#1e1e1e" font-weight="normal" font-family="&quot;Liberation Sans&quot;, sans-serif" >ulvan</text>
<path d="M244.5,411 L264,399.8" stroke="#777" stroke-width="0.9"/><path d="M265.8,398.7 L260.2,399.6 L262.3,403 Z" fill="#777"/>
<text x="507.10" y="381.40" font-size="9.30" text-anchor="start" fill="#1e1e1e" font-weight="normal" font-family="&quot;Liberation Sans&quot;, sans-serif" textLength="60.4" lengthAdjust="spacingAndGlyphs">swollen xylose</text>
<text x="507.10" y="392.60" font-size="9.30" text-anchor="start" fill="#1e1e1e" font-weight="normal" font-family="&quot;Liberation Sans&quot;, sans-serif" >domains</text>
<path d="M501.5,384.6 L474.5,381.6" stroke="#777" stroke-width="0.9"/><path d="M471.6,381.3 L476.4,379.4 L476,383.6 Z" fill="#777"/>
<g stroke="#111" stroke-width="0.8" fill="none"><line x1="350.5" y1="401.6" x2="350.5" y2="411.6"/><line x1="345.5" y1="401.1" x2="353.5" y2="401.1"/><line x1="345.5" y1="412.1" x2="353.5" y2="412.1"/><path d="M349.0,403.6 L350.5,401.6 L352.0,403.6"/><path d="M349.0,409.6 L350.5,411.6 L352.0,409.6"/></g><text x="354.90" y="410.20" font-size="7.60" text-anchor="start" fill="#1a1a1a" font-weight="normal" font-family="&quot;Liberation Sans&quot;, sans-serif" >4.5 nm</text>
<g stroke="#111" stroke-width="0.8" fill="none"><line x1="502.4" y1="408.5" x2="502.4" y2="418.5"/><line x1="497.4" y1="408.0" x2="505.4" y2="408.0"/><line x1="497.4" y1="419.0" x2="505.4" y2="419.0"/><path d="M500.9,410.5 L502.4,408.5 L503.9,410.5"/><path d="M500.9,416.5 L502.4,418.5 L503.9,416.5"/></g><text x="506.50" y="416.10" font-size="7.60" text-anchor="start" fill="#1a1a1a" font-weight="normal" font-family="&quot;Liberation Sans&quot;, sans-serif" >4.5 nm</text>
</svg></body></html>
